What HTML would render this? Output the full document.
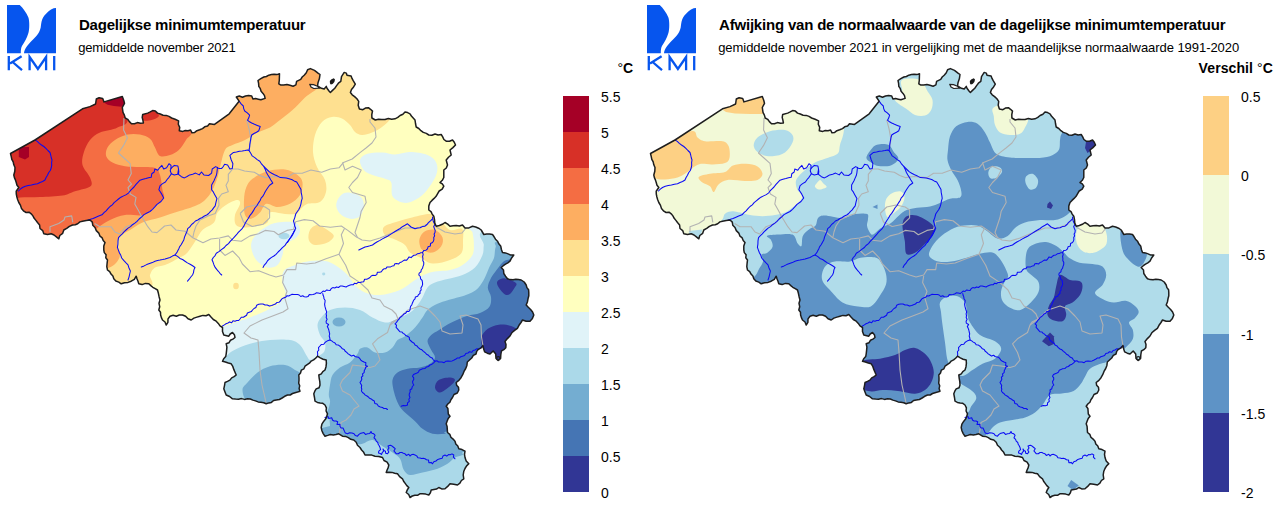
<!DOCTYPE html>
<html><head><meta charset="utf-8"><title>KMI</title>
<style>
html,body{margin:0;padding:0;background:#fff;}
body{width:1280px;height:507px;overflow:hidden;position:relative;font-family:"Liberation Sans",sans-serif;color:#000;}
svg{position:absolute;left:0;top:0;}
.t{position:absolute;white-space:nowrap;line-height:1;}
.b{font-weight:bold;}
</style></head><body>
<svg width="1280" height="507" viewBox="0 0 1280 507">
<defs>
<clipPath id="be"><path d="M10.5,153.5 L35.0,140.0 L82.5,108.8 L90.0,106.6 L95.6,104.0 L96.3,99.0 L99.1,97.7 L102.7,98.4 L104.0,101.9 L122.3,96.5 L123.8,100.5 L124.5,103.3 L122.3,107.5 L123.0,112.4 L124.4,115.1 L125.2,118.0 L127.7,119.3 L129.4,121.6 L131.5,123.7 L134.5,123.8 L137.4,122.6 L140.4,123.2 L143.4,123.0 L142.9,120.2 L142.2,117.4 L142.7,114.5 L147.7,113.1 L150.2,111.9 L152.6,110.6 L155.4,111.1 L157.5,113.1 L160.3,114.0 L163.1,115.2 L166.2,115.4 L169.0,116.4 L171.6,118.0 L175.1,119.3 L178.6,120.9 L178.3,124.2 L179.7,127.4 L179.3,130.7 L182.8,131.4 L185.3,130.5 L188.0,130.7 L190.6,130.0 L192.0,132.8 L194.7,132.4 L196.9,130.7 L199.7,129.8 L202.5,128.6 L204.7,126.8 L207.6,126.0 L209.5,123.7 L214.5,124.4 L229.2,113.8 L239.1,101.2 L236.3,97.0 L239.3,96.0 L242.5,97.2 L245.5,96.0 L248.6,95.6 L251.7,96.0 L252.9,99.0 L255.6,98.6 L258.3,99.2 L260.9,99.8 L265.1,98.4 L264.5,95.7 L263.0,93.4 L261.1,91.3 L260.3,88.7 L258.8,86.4 L258.6,83.4 L258.0,80.5 L260.8,78.6 L263.8,77.0 L266.4,76.5 L268.8,75.2 L271.5,74.6 L274.1,74.3 L276.9,74.6 L279.5,73.8 L279.4,77.1 L279.3,80.4 L278.8,83.8 L280.5,84.9 L283.7,84.9 L286.9,84.6 L290.0,85.3 L293.1,86.2 L295.9,84.9 L296.6,81.4 L300.7,79.3 L302.2,77.0 L304.2,75.2 L306.3,72.7 L307.6,69.7 L310.4,68.6 L314.5,70.4 L318.0,73.1 L320.0,74.5 L319.4,78.6 L318.0,82.8 L317.5,86.0 L321.4,88.3 L324.2,89.0 L326.3,86.4 L327.0,88.3 L329.0,91.0 L330.4,92.5 L332.5,90.4 L334.8,88.2 L336.6,85.6 L338.4,83.2 L340.8,81.4 L341.5,76.6 L344.2,72.4 L346.3,73.1 L347.0,75.2 L351.1,75.9 L352.0,78.4 L353.2,80.7 L355.3,84.2 L353.6,86.9 L351.5,89.4 L350.4,92.5 L352.2,94.8 L354.6,96.6 L356.9,98.8 L358.7,101.4 L358.2,105.3 L359.4,109.0 L362.9,109.7 L365.4,108.1 L368.4,107.7 L370.5,109.3 L372.5,111.1 L371.8,114.5 L371.9,118.0 L375.3,120.0 L378.5,119.2 L381.8,119.6 L385.0,119.5 L388.3,118.5 L391.7,119.3 L395.0,118.8 L397.8,117.4 L400.1,115.5 L402.9,114.2 L405.0,112.0 L407.6,112.6 L410.0,113.8 L411.4,116.0 L413.2,118.0 L415.0,120.0 L415.5,123.5 L416.2,127.0 L418.8,128.5 L420.9,130.7 L423.3,132.4 L426.3,133.4 L428.8,135.0 L431.9,135.2 L435.0,134.0 L438.1,135.0 L441.2,134.5 L442.7,136.9 L443.9,139.5 L446.2,141.2 L449.5,141.2 L452.5,140.0 L454.3,142.3 L455.5,145.0 L452.9,147.6 L450.0,150.0 L451.2,155.0 L448.5,157.3 L446.2,160.0 L447.5,165.0 L446.3,168.0 L443.8,170.0 L443.8,173.8 L443.8,177.5 L442.3,180.3 L440.0,182.5 L442.3,183.9 L443.8,186.2 L442.2,189.2 L439.2,191.0 L437.5,193.8 L436.1,196.3 L434.1,198.4 L432.0,200.4 L430.0,202.5 L428.8,206.1 L428.8,210.0 L431.0,211.6 L432.2,214.1 L433.8,216.2 L434.5,219.6 L434.8,223.1 L436.2,226.2 L439.4,225.5 L442.3,224.3 L445.0,222.5 L447.7,224.1 L450.0,226.2 L453.1,225.8 L456.2,225.4 L459.4,226.0 L462.5,225.0 L465.0,228.0 L468.9,227.9 L472.5,226.2 L475.7,227.0 L478.6,228.2 L481.2,230.0 L483.8,234.5 L486.7,234.0 L489.6,234.0 L492.5,234.5 L494.1,236.8 L495.5,239.2 L497.5,241.2 L498.8,243.8 L500.8,246.3 L501.4,249.5 L502.5,252.5 L505.4,252.9 L508.1,253.9 L510.8,255.1 L513.8,255.0 L511.6,258.0 L510.0,261.2 L507.8,262.8 L505.5,264.2 L503.3,265.7 L501.2,267.5 L503.5,269.9 L503.8,273.5 L505.5,276.2 L507.5,278.8 L510.2,279.6 L513.0,279.8 L515.8,279.3 L518.5,279.6 L521.2,280.0 L524.2,282.0 L526.2,285.0 L526.9,287.6 L528.6,289.8 L528.8,292.5 L528.8,295.8 L528.0,298.8 L527.4,302.0 L526.2,305.0 L528.3,307.3 L530.6,309.5 L532.6,312.0 L533.8,315.0 L532.4,318.4 L530.0,321.2 L526.1,321.3 L522.5,320.0 L521.0,322.5 L519.0,325.3 L517.4,328.3 L514.6,330.4 L511.8,332.8 L510.0,336.0 L507.4,338.6 L505.0,341.5 L506.0,344.6 L505.8,347.8 L503.8,349.7 L501.4,351.0 L500.8,355.0 L500.6,358.5 L498.2,360.4 L496.0,358.5 L495.7,354.0 L493.2,351.0 L490.0,354.0 L487.3,353.2 L484.7,351.9 L483.6,348.8 L483.0,345.6 L481.1,347.9 L478.4,349.3 L476.7,351.4 L476.0,354.0 L473.3,355.4 L471.7,358.0 L469.5,360.0 L467.3,362.0 L466.9,365.4 L465.7,368.5 L464.0,371.4 L462.7,374.7 L461.0,377.7 L458.9,380.4 L456.2,382.5 L456.6,385.2 L458.5,387.3 L458.8,390.0 L457.3,393.0 L454.0,394.5 L452.5,397.5 L450.9,399.7 L449.9,402.2 L447.8,404.0 L446.2,406.2 L447.9,408.5 L448.1,411.3 L448.3,414.0 L450.0,416.2 L448.2,418.5 L447.2,421.1 L446.2,423.8 L447.1,426.6 L447.3,429.6 L447.5,432.5 L449.8,434.3 L450.9,437.2 L453.1,439.1 L455.0,441.2 L455.8,444.0 L457.8,446.1 L458.8,448.8 L462.0,449.6 L465.0,451.2 L464.5,454.4 L465.0,457.5 L466.2,461.0 L468.8,463.8 L466.6,465.9 L465.0,468.5 L463.8,471.2 L463.2,475.0 L463.8,478.8 L461.4,480.5 L459.9,483.2 L457.5,485.0 L453.8,484.3 L450.0,483.8 L447.7,486.4 L445.0,488.8 L441.7,488.9 L438.8,487.5 L436.5,489.1 L433.9,489.5 L431.2,490.0 L430.4,492.7 L428.8,495.0 L425.7,494.1 L422.5,493.8 L419.8,493.8 L417.5,495.3 L414.8,495.3 L412.3,496.0 L410.0,497.5 L408.7,494.5 L406.2,492.5 L407.3,489.9 L408.8,487.5 L406.8,485.6 L405.2,483.4 L403.6,481.2 L402.5,478.8 L399.6,476.6 L397.5,473.8 L394.7,473.2 L392.0,472.4 L389.1,472.2 L386.2,472.5 L387.1,470.0 L388.2,467.6 L388.8,465.0 L387.1,462.2 L384.0,460.5 L382.5,457.5 L378.8,456.6 L375.0,456.2 L371.8,455.1 L368.4,454.9 L365.0,455.0 L363.7,452.3 L361.6,450.0 L360.0,447.5 L357.5,445.3 L356.2,442.2 L353.8,440.0 L350.8,439.3 L348.3,437.6 L345.6,436.4 L342.5,436.2 L338.8,433.8 L336.0,434.4 L333.3,434.9 L330.4,434.5 L327.7,435.4 L325.0,436.2 L323.2,433.6 L321.9,430.7 L321.2,427.5 L321.9,424.2 L323.8,421.2 L325.6,419.1 L326.7,416.5 L327.5,413.8 L326.1,411.0 L326.4,407.8 L325.0,405.0 L322.8,403.3 L320.1,402.9 L317.4,402.4 L315.0,401.2 L314.5,397.5 L313.8,393.8 L314.8,391.2 L316.2,388.9 L319.1,387.7 L320.0,385.0 L319.8,381.6 L319.2,378.3 L318.8,375.0 L321.3,373.9 L322.8,371.6 L325.0,370.0 L326.0,366.7 L326.4,363.4 L326.2,360.0 L323.1,359.2 L320.3,357.9 L317.5,356.2 L315.6,358.2 L313.6,359.9 L311.2,361.1 L309.4,363.2 L307.2,364.7 L305.0,366.2 L303.9,368.8 L301.3,370.2 L300.5,373.0 L298.8,375.0 L299.0,377.7 L299.0,380.4 L298.7,383.2 L299.7,385.8 L299.1,388.6 L300.0,391.2 L297.5,392.0 L295.0,392.7 L292.5,393.5 L290.2,395.0 L287.5,395.0 L284.7,396.3 L282.1,398.0 L279.4,399.5 L276.2,400.0 L273.6,400.5 L271.4,402.4 L268.8,402.9 L266.2,403.8 L263.7,402.7 L260.9,402.2 L258.1,401.9 L255.5,400.9 L252.9,400.1 L250.3,399.0 L247.5,398.8 L244.5,399.4 L241.5,398.6 L238.5,399.2 L235.5,399.1 L232.5,398.8 L229.6,396.5 L226.2,395.0 L225.0,391.9 L223.8,388.8 L224.5,385.6 L225.0,382.5 L227.5,381.4 L229.9,380.1 L231.7,377.9 L234.1,376.7 L236.2,375.0 L235.0,372.2 L233.8,369.4 L232.8,366.4 L231.2,363.8 L228.3,363.0 L225.4,362.0 L222.5,361.2 L223.7,358.7 L225.7,356.6 L226.2,353.8 L226.6,350.4 L226.9,347.1 L226.2,343.8 L228.9,342.8 L230.4,340.3 L232.9,339.1 L235.0,337.5 L234.4,334.7 L232.5,332.5 L230.2,334.0 L228.8,336.2 L223.8,335.0 L222.5,331.4 L222.5,327.5 L220.0,325.9 L218.3,323.4 L216.2,321.2 L213.3,319.5 L211.0,317.1 L208.8,314.5 L206.0,315.8 L202.9,315.4 L200.0,316.2 L196.9,317.1 L193.9,318.1 L191.2,320.0 L188.0,318.8 L185.6,316.3 L182.5,315.0 L179.3,315.0 L176.3,316.2 L173.1,315.3 L170.0,316.2 L168.0,318.9 L167.9,322.3 L166.2,325.0 L165.0,322.0 L162.5,320.0 L161.4,317.6 L160.6,315.0 L160.5,312.2 L158.8,310.0 L159.7,306.7 L159.0,303.3 L160.0,300.0 L159.1,296.7 L158.4,293.3 L157.5,290.0 L155.2,288.7 L152.8,287.3 L150.8,285.6 L148.8,283.8 L145.4,283.4 L142.1,284.6 L138.8,283.8 L138.0,281.2 L137.0,278.8 L136.2,276.2 L134.3,279.3 L131.2,281.2 L128.0,282.4 L124.5,282.7 L121.2,283.8 L118.8,282.1 L115.8,281.0 L113.8,278.8 L112.9,276.1 L111.0,274.1 L109.7,271.7 L107.5,270.0 L106.8,266.7 L107.1,263.3 L107.5,260.0 L105.8,257.8 L106.1,254.8 L104.3,252.6 L103.8,250.0 L103.8,246.1 L105.0,242.5 L103.2,240.5 L102.2,237.9 L100.0,236.2 L98.8,233.1 L96.3,230.6 L95.0,227.5 L92.8,225.3 L92.3,222.1 L90.0,220.0 L86.2,220.5 L82.5,221.2 L79.9,221.9 L77.7,223.8 L75.3,224.8 L72.5,225.0 L69.4,226.4 L66.7,228.4 L63.8,230.0 L62.7,233.3 L59.8,235.5 L58.8,238.8 L56.4,236.9 L54.0,235.0 L51.2,233.8 L47.5,234.5 L43.8,233.8 L42.7,230.6 L40.0,228.5 L39.6,225.0 L37.5,222.5 L35.9,220.4 L34.2,218.3 L32.9,215.9 L31.2,213.8 L29.0,212.2 L26.1,212.5 L23.8,211.2 L21.5,208.6 L20.5,205.4 L18.8,202.5 L17.7,199.8 L16.9,197.0 L16.3,194.2 L16.2,191.2 L18.8,187.5 L17.0,185.3 L16.3,182.7 L15.5,180.1 L14.4,177.6 L13.8,175.0 L14.8,171.3 L15.0,167.5 L13.8,164.8 L13.2,161.9 L11.8,159.3 L11.2,156.4 Z M309.7,84.3 L311.0,87.0 L313.8,88.5 L319.5,88.2 L317.5,86.3 L313.5,84.6 Z" clip-rule="evenodd"/></clipPath>
<g id="lines">
<g fill="none" stroke="#b2b2b2" stroke-width="1.1" stroke-linejoin="round"><path d="M124.0,118.0 L123.6,130.0 L127.4,137.7 L123.6,145.4 L118.5,153.0 L124.0,158.0 L130.0,163.3 L131.3,173.6 L128.0,180.0 L131.5,184.0 L128.0,187.6 L130.4,194.0 L136.0,197.4 L134.8,204.0 L139.0,211.5 L141.3,216.0"/>
<path d="M50.0,232.0 L50.0,226.7 L58.7,223.5 L64.0,220.0 L65.0,217.0 L71.7,215.9 L72.8,222.4"/>
<path d="M94.6,223.5 L100.0,226.7 L111.0,226.7 L115.0,232.0 L119.6,234.0 L126.0,226.7 L134.8,223.5 L141.3,216.0 L147.8,226.7 L152.0,232.0 L157.0,232.6 L164.6,226.0 L171.0,225.0 L176.0,230.0 L185.0,231.3 L192.8,237.7 L203.0,242.8 L210.9,239.0 L219.6,238.0 L228.3,235.9 L232.6,240.2 L241.3,241.3 L250.0,235.9 L258.7,233.7 L265.2,230.4 L274.0,231.5 L278.3,234.8 L287.0,230.4 L293.5,229.3 L295.7,221.7 L304.3,219.6 L313.0,220.7 L319.6,226.0 L330.4,227.2 L341.3,226.0 L347.8,230.4 L356.5,237.0 L362.0,240.0 L370.0,241.0 L380.0,238.0 L392.0,233.0 L405.0,228.0 L418.0,228.0 L428.0,224.0 L433.0,218.0"/>
<path d="M219.6,239.0 L219.6,250.0 L225.0,255.4 L232.6,251.0 L239.0,257.6 L242.4,264.0 L250.0,271.7 L258.7,270.7 L269.6,275.0 L276.0,277.0 L283.7,275.0 L287.0,269.6 L295.7,269.6 L296.7,263.0 L306.5,264.0 L315.2,263.0 L326.0,258.7 L339.0,254.3 L343.5,243.5 L341.3,234.8 L344.6,228.3"/>
<path d="M283.7,276.0 L282.6,282.6 L287.0,291.3 L284.8,297.8 L288.0,308.7 L283.0,312.0 L270.0,317.0 L262.0,320.0 L250.0,326.0 L244.0,333.0 L251.0,338.0 L258.0,340.0 L259.0,352.0 L260.0,370.0 L262.0,385.0 L265.0,398.0 L266.0,403.0"/>
<path d="M339.0,254.3 L345.7,265.2 L350.0,276.0 L360.0,282.6 L368.0,290.0 L372.0,298.0 L380.0,300.0 L384.0,306.0 L392.0,310.0 L396.0,314.0 L398.0,319.0 L392.0,322.0 L390.0,325.0"/>
<path d="M390.0,325.0 L387.5,332.5 L377.5,338.8 L372.5,343.8 L377.5,352.5 L380.0,360.0 L375.0,366.0 L370.0,367.5 L361.0,366.0 L352.5,365.0 L350.0,372.5 L342.5,380.0 L340.0,385.0 L342.5,391.0 L350.0,395.0 L354.0,400.0 L359.0,406.0 L354.0,409.0 L351.0,415.0 L346.0,420.0 L341.0,422.5 L340.0,430.0 L339.0,434.0"/>
<path d="M390.0,325.0 L398.0,319.0 L408.0,310.0 L420.0,306.0 L428.0,309.0 L435.0,316.0 L440.0,322.0 L442.0,331.0 L450.0,334.0 L462.0,333.0 L463.0,325.0 L460.0,316.0 L466.0,315.0 L478.0,319.0 L481.0,325.0 L481.5,337.0 L483.0,346.0"/>
<path d="M246.7,120.0 L249.0,128.7 L251.0,139.6 L249.0,150.0"/>
<path d="M232.6,169.0 L238.0,169.0 L244.6,171.0 L254.3,172.2 L259.8,175.4 L265.2,177.6 L274.0,176.5 L287.0,177.6 L293.5,173.3 L302.2,173.3 L310.9,170.0 L321.7,172.2 L330.4,169.0 L339.0,167.8 L343.5,162.4 L352.2,159.0 L360.0,152.6 L366.0,148.0 L372.0,143.0 L376.0,137.0 L375.0,128.0 L370.0,122.0 L370.0,119.0"/>
<path d="M232.6,169.0 L228.3,174.3 L228.3,181.0 L226.0,185.2 L228.3,191.7 L221.7,194.0 L218.5,198.3 L219.0,205.0 L215.2,213.5 L208.7,215.7 L200.0,220.0 L196.0,226.0 L194.0,232.0 L192.8,237.7"/>
<path d="M240.2,213.5 L246.7,207.0 L256.0,205.0 L265.2,207.0 L269.6,210.0 L269.6,217.8 L263.0,224.3 L252.2,226.5 L243.5,222.0 L240.2,213.5"/>
<path d="M342.5,162.5 L345.0,170.0 L352.5,166.2 L361.2,170.0 L357.5,177.5 L352.5,182.5 L348.8,187.5 L352.5,192.5 L365.0,196.2 L366.2,202.5 L361.2,211.2 L360.0,217.5 L357.5,225.0 L355.0,232.5 L357.5,237.5"/>
<path d="M436.0,227.0 L445.0,232.0 L455.0,234.0 L462.0,233.0 L466.0,228.0"/></g>
<g fill="none" stroke="#0a0af5" stroke-width="1.05" stroke-linejoin="round" stroke-linecap="round"><path d="M35.0,140.0 L37.3,141.4 L39.3,143.4 L41.5,145.0 L43.8,146.5 L45.9,148.4 L47.9,150.5 L50.0,152.5 L50.7,155.0 L51.2,157.5 L52.0,160.0 L51.6,162.7 L51.7,165.4 L51.2,168.0 L50.3,170.5 L48.6,172.7 L47.5,175.2 L46.1,177.5 L45.0,180.0 L42.6,181.5 L40.0,182.5 L37.5,183.8 L34.4,184.2 L31.4,185.0 L28.3,185.4 L25.3,186.2 L22.5,187.5 L20.3,189.1 L18.5,191.0"/>
<path d="M239.3,101.4 L241.1,103.9 L243.3,106.0 L243.7,108.6 L244.7,111.0 L247.3,112.9 L249.6,115.2 L248.8,117.8 L247.5,120.2 L249.5,121.8 L251.7,123.0 L254.5,124.3 L257.3,125.4 L260.2,126.5 L258.8,130.7 L256.5,132.2 L254.0,133.5 L251.7,135.0 L250.9,138.1 L250.3,141.3 L249.8,144.3 L249.6,147.4 L249.0,150.4 L250.6,153.1 L252.2,155.9 L254.8,157.6 L257.2,159.6 L259.8,161.3 L261.7,164.2 L264.0,166.7 L267.4,170.0 L269.4,171.9 L271.7,173.3 L274.6,174.8 L277.5,176.1 L280.4,177.6 L283.3,177.8 L286.2,178.1 L289.0,178.7 L291.7,179.5 L294.1,180.9 L296.7,182.0 L298.2,184.5 L299.6,187.0 L301.0,189.6 L301.2,192.5 L301.8,195.4 L302.2,198.3 L301.4,201.2 L300.9,204.1 L300.0,207.0 L298.8,209.5 L297.2,211.7 L295.7,214.0 L294.8,217.6 L293.5,221.0 L294.2,223.4 L294.7,226.0 L295.7,228.3 L294.1,231.2 L292.9,234.2 L291.3,237.0 L289.5,239.0 L287.9,241.2 L286.3,243.4 L284.8,245.7 L282.4,247.7 L280.3,249.9 L278.1,252.0 L276.0,254.3 L273.9,256.0 L271.5,257.4 L269.4,259.0 L267.4,260.9 L266.1,263.2 L264.3,265.1 L263.0,267.4"/>
<path d="M264.0,166.7 L265.3,169.4 L266.3,172.2 L267.7,174.7 L269.3,177.2 L270.7,179.8 L272.8,183.0 L269.6,185.2 L268.1,187.3 L266.6,189.5 L265.2,191.7 L264.1,194.0 L262.9,196.2 L261.1,198.1 L260.1,200.5 L258.7,202.6 L257.0,205.5 L254.9,208.0 L253.3,210.9 L251.7,213.4 L249.8,215.7 L248.4,218.3 L246.7,220.7 L245.2,223.2 L244.0,225.9 L242.4,228.3 L240.4,230.4 L238.3,232.4 L236.5,234.7 L234.5,236.8 L232.6,239.0 L230.4,241.1 L228.5,243.6 L226.0,245.5 L224.0,247.8 L221.4,249.6 L218.9,251.6 L216.3,253.3 L215.1,255.6 L213.3,257.5 L212.0,259.8 L213.1,262.3 L214.0,264.9 L215.2,267.4 L216.7,269.4 L218.4,271.3 L219.9,273.3 L221.7,275.0"/>
<path d="M249.0,150.4 L247.7,150.0 L245.0,150.6 L242.2,151.0 L239.4,151.2 L236.5,151.9 L233.5,152.4 L229.9,155.4 L231.1,159.5 L232.9,163.7 L232.3,168.4 L229.9,169.0 L227.6,164.9 L224.6,164.3 L223.3,166.5 L221.7,168.4 L218.7,168.4 L215.7,166.6 L212.2,169.0 L211.6,173.1 L208.6,175.5 L203.9,174.9 L201.5,172.0 L199.2,174.9 L195.6,173.1 L192.7,174.2 L189.7,174.9 L187.1,176.5 L184.4,177.9 L181.4,176.7 L178.5,174.3 L178.8,171.7 L178.5,169.0 L177.9,166.0 L174.3,165.4 L171.0,168.4 L170.2,170.8 L171.4,173.7 L174.3,174.9 L177.6,174.3 L178.2,171.7 L178.5,169.0"/>
<path d="M171.0,168.4 L171.0,165.4 L169.0,163.7 L166.6,167.8 L163.7,169.0 L161.9,165.4 L159.5,167.8 L157.8,170.2 L154.8,169.0 L154.2,172.0 L151.8,173.7 L151.2,177.3 L148.5,177.8 L145.9,178.5 L142.9,179.2 L140.0,180.2 L137.9,182.3 L135.8,184.6 L134.0,187.0 L132.1,188.8 L130.3,190.7 L128.7,192.8 L126.3,194.6 L123.6,195.9 L120.9,197.2 L118.5,199.0 L116.3,200.8 L114.1,202.6 L112.3,204.8 L110.0,206.5 L108.0,208.6 L106.1,210.8 L104.0,212.7 L102.0,214.8 L98.7,216.1 L95.4,217.5 L93.0,218.6 L90.5,219.3 L88.0,220.0"/>
<path d="M171.4,173.7 L169.0,177.3 L167.1,179.5 L165.4,182.0 L162.6,183.6 L160.1,185.6 L158.9,189.7 L160.4,192.0 L161.9,194.4 L163.7,198.0 L161.0,201.5 L157.0,204.4 L154.8,206.9 L152.5,209.3 L150.0,211.5 L147.0,213.0 L144.0,214.6 L141.7,216.8 L139.2,219.0 L137.0,221.3 L134.8,223.1 L132.5,224.7 L130.5,226.6 L128.1,228.1 L126.0,230.0 L124.0,231.8 L122.3,233.8 L120.4,235.7 L118.5,237.6 L118.0,240.9 L117.9,244.2 L117.4,247.4 L118.4,250.1 L119.4,252.8 L120.8,255.3 L121.7,258.0 L123.7,260.4 L125.8,262.6 L128.0,264.8 L129.0,268.0 L130.4,271.0 L129.7,274.0 L129.0,277.1 L128.0,280.0"/>
<path d="M217.5,167.2 L217.2,170.0 L216.9,172.8 L216.3,175.5 L215.1,178.1 L214.0,180.8 L211.6,185.0 L211.6,189.7 L213.3,191.9 L214.6,194.4 L216.9,198.6 L216.0,202.2 L215.2,205.9 L213.6,207.9 L212.2,209.9 L210.3,211.6 L208.7,213.5 L206.7,215.0 L204.4,216.0 L202.3,217.5 L200.0,218.5 L197.8,220.0 L195.4,221.0 L193.5,223.0 L191.4,224.7 L189.8,226.9 L187.7,228.7 L186.9,231.6 L185.7,234.3 L184.5,237.1 L183.8,240.0 L182.5,242.2 L181.3,244.5 L179.7,246.6 L178.7,249.0 L177.1,252.1 L175.0,255.0 L172.4,256.1 L170.0,257.5 L167.5,258.2 L165.1,259.0 L162.6,259.6 L160.0,260.1 L157.5,260.4 L155.0,261.2 L152.3,262.6 L149.5,263.5 L146.7,264.6 L144.1,265.9 L141.3,267.0"/>
<path d="M175.0,255.0 L177.6,256.4 L179.9,258.4 L182.6,259.5 L185.0,261.2 L187.4,262.9 L190.1,264.2 L192.6,265.8 L195.0,267.5 L193.9,269.9 L193.5,272.6 L192.5,275.0 L190.8,277.0 L189.2,279.2 L187.5,281.2"/>
<path d="M222.5,326.0 L224.3,324.9 L226.0,323.8 L228.0,323.0 L229.6,321.9 L231.7,322.8 L233.0,320.7 L235.0,321.2 L236.7,320.5 L238.7,320.5 L240.0,319.0 L241.3,317.3 L243.4,317.3 L245.0,316.2 L246.6,315.2 L247.4,313.0 L249.3,312.3 L251.3,311.6 L252.5,310.0 L254.0,308.5 L255.9,307.5 L256.7,305.2 L258.7,304.3 L260.9,304.0 L263.0,304.0 L265.0,305.0 L267.2,305.1 L269.4,306.1 L271.7,305.4 L273.5,304.7 L275.4,304.1 L276.8,302.6 L278.9,302.3 L280.4,301.0 L281.6,299.1 L283.4,298.0 L285.6,297.3 L287.0,295.7 L288.8,295.9 L290.5,295.1 L292.1,294.2 L293.9,294.4 L295.7,294.6 L297.6,294.5 L299.2,295.0 L300.7,296.5 L302.7,295.7 L304.3,296.7 L306.2,297.0 L308.0,296.6 L309.3,294.6 L311.2,294.8 L313.0,294.6 L314.7,294.1 L316.2,292.8 L318.2,293.1 L320.2,293.6 L321.7,292.4 L323.1,291.1 L325.0,291.5 L326.4,290.0 L328.3,290.3 L330.1,290.4 L331.3,288.5 L332.8,287.6 L334.8,288.0 L336.5,286.9 L338.5,287.5 L340.2,286.1 L342.1,286.0 L344.1,286.5 L346.1,287.0 L347.8,285.9 L349.5,285.3 L351.2,284.8 L353.1,284.8 L354.6,283.2 L356.6,283.7 L358.1,282.4 L360.0,282.6 L361.8,281.9 L363.7,281.7 L364.6,279.3 L366.7,279.3 L368.4,278.5 L370.0,277.5 L371.2,276.0 L372.9,275.2 L375.2,275.5 L376.8,274.6 L377.4,272.2 L379.6,272.2 L381.4,271.7 L382.5,270.0 L383.9,268.8 L385.8,268.8 L386.9,267.1 L388.8,267.0 L390.6,266.9 L392.1,266.1 L393.9,265.7 L394.9,263.8 L396.7,263.6 L398.7,263.9 L400.0,262.5 L401.6,261.9 L403.1,260.9 L404.6,260.0 L406.7,260.2 L407.9,258.7 L408.9,257.0 L411.2,257.6 L412.5,256.2 L414.0,255.3 L415.8,254.9 L417.3,253.8 L419.1,253.6 L420.7,252.8 L422.5,252.5 L423.7,250.6 L426.0,250.2 L427.5,248.8 L428.1,246.7 L430.4,246.0 L430.5,243.5 L432.5,242.5 L433.5,241.0 L433.9,239.3 L433.7,237.5 L434.6,235.9 L434.1,234.0 L435.0,232.5 L435.2,230.4 L434.4,228.5 L433.7,226.6 L434.9,224.4 L433.8,222.5 L433.1,220.7 L432.7,218.9 L432.5,217.0"/>
<path d="M322.8,293.5 L323.1,295.3 L323.8,296.9 L324.0,298.8 L325.1,300.3 L325.0,302.2 L324.6,304.2 L324.9,306.2 L325.4,308.1 L326.0,310.0 L326.7,311.9 L326.1,313.8 L326.5,315.6 L326.2,317.5 L327.1,319.2 L326.1,321.2 L326.3,323.1 L328.6,324.5 L327.3,326.6 L328.2,328.3 L328.8,330.0 L329.2,332.0 L329.7,333.9 L329.2,336.0 L329.8,338.0 L330.0,340.0 L328.2,340.5 L326.5,341.4 L325.0,342.5 L323.8,344.3 L321.4,344.4 L320.0,346.0 L318.5,347.7 L318.8,350.0 L317.4,351.8 L317.7,354.0 L317.5,356.0"/>
<path d="M330.0,340.0 L331.7,340.9 L333.3,342.1 L335.0,343.0 L336.2,344.8 L338.4,345.1 L340.0,346.2 L341.2,347.4 L342.4,348.8 L344.2,349.4 L345.0,351.0 L346.7,352.4 L348.2,353.9 L350.0,355.0 L351.5,356.1 L353.6,355.2 L355.0,356.5 L356.8,356.9 L358.7,357.3 L360.0,358.8 L360.9,360.3 L362.4,361.2 L364.0,362.0 L365.9,362.8 L365.6,365.4 L367.5,366.2 L365.7,367.2 L365.2,369.1 L364.3,370.6 L364.1,372.6 L362.5,373.8 L362.9,375.8 L361.4,377.2 L361.8,379.2 L361.1,380.9 L360.0,382.5 L360.9,384.0 L361.7,385.6 L361.3,387.5 L361.8,389.1 L361.4,391.0 L362.5,392.5 L364.0,393.7 L365.3,395.1 L367.0,396.0 L368.4,397.0 L369.6,398.3 L371.2,398.9 L372.5,400.0 L374.3,401.0 L374.8,403.4 L377.0,404.0 L378.3,406.0 L380.3,406.9 L382.5,407.5 L384.0,408.6 L386.0,408.5 L387.5,409.5"/>
<path d="M358.8,250.0 L361.9,248.5 L365.0,247.0 L367.5,246.4 L370.0,245.8 L372.5,245.0 L374.9,243.3 L377.3,241.7 L380.0,240.4 L382.4,238.9 L385.0,237.5 L387.6,236.2 L390.1,234.6 L392.5,233.1 L395.0,231.5 L397.5,230.0 L400.1,228.5 L402.4,226.7 L405.0,225.3 L407.5,223.8 L411.0,227.0 L415.0,228.8 L417.5,227.9 L420.1,227.7 L422.4,226.6 L425.0,226.2 L427.0,224.5 L428.6,222.3 L430.7,220.7 L432.5,218.8"/>
<path d="M422.5,252.5 L423.2,254.4 L422.6,256.5 L422.9,258.5 L422.8,260.6 L423.8,262.5 L423.7,264.6 L423.0,266.4 L422.5,268.3 L421.2,270.0 L420.9,271.9 L419.2,273.1 L418.8,275.0 L420.3,276.5 L420.6,278.8 L422.1,280.4 L422.5,282.5 L422.6,284.4 L422.0,286.3 L420.9,288.0 L421.2,290.0 L420.0,291.3 L420.0,293.5 L418.5,294.6 L417.7,296.2 L415.4,296.9 L415.0,298.8 L413.7,300.1 L413.0,301.7 L412.3,303.3 L411.7,305.0 L410.6,306.4 L410.2,308.2 L410.0,310.0 L408.9,311.5 L406.7,311.6 L405.7,313.2 L404.0,313.9 L402.8,315.3 L401.5,316.5 L400.0,317.5 L399.0,319.2 L397.6,320.7 L396.5,322.4 L395.0,323.8 L396.5,325.1 L396.1,327.4 L397.5,328.8 L398.7,330.3 L399.9,331.7 L402.0,332.0 L403.1,333.4 L404.7,334.2 L405.8,335.6 L407.5,336.2 L409.3,337.4 L409.5,339.6 L411.0,341.0 L412.4,342.3 L414.1,343.2 L415.0,345.0 L417.0,345.9 L418.3,347.7 L420.0,349.0 L421.9,349.8 L423.4,351.3 L425.0,352.5 L426.5,354.2 L428.5,355.3 L430.0,357.0 L432.1,357.9 L433.3,359.8 L435.0,361.2 L433.7,362.9 L432.0,364.2 L430.0,365.0 L428.4,366.5 L426.4,367.1 L424.8,368.6 L422.5,368.8 L420.9,369.6 L419.2,370.2 L418.5,372.1 L417.0,373.0 L415.2,373.7 L413.5,374.5 L412.5,376.2 L413.7,377.9 L413.7,379.6 L412.6,381.6 L412.8,383.3 L413.8,385.0 L412.3,386.5 L411.8,388.7 L410.0,390.0 L410.2,391.9 L409.3,393.8 L409.2,395.6 L410.0,397.5 L408.8,399.2 L409.3,401.4 L407.5,402.9 L407.5,405.0 L405.5,405.7 L403.2,405.4 L401.2,406.2"/>
<path d="M435.0,361.2 L436.8,360.7 L438.5,362.0 L440.2,362.1 L442.0,362.0 L444.1,362.7 L446.0,361.2 L448.0,361.0 L450.0,361.2 L452.2,360.9 L454.1,360.0 L456.0,359.0 L457.5,357.9 L459.4,358.0 L460.8,356.7 L462.5,356.2 L464.6,355.6 L465.8,353.4 L468.0,353.0 L469.5,351.7 L471.8,352.2 L473.1,350.5 L475.0,350.0 L476.6,348.8 L478.7,349.1 L480.4,348.0 L481.7,346.4 L483.8,346.2"/>
<path d="M325.0,417.5 L328.0,416.5 L328.8,418.6 L331.8,417.8 L332.5,420.0 L334.1,421.1 L336.0,421.0 L337.7,421.8 L337.0,424.4 L340.0,424.2 L340.0,426.2 L341.0,428.0 L343.0,428.0 L343.8,429.7 L344.5,431.4 L345.4,433.1 L347.5,433.8 L349.6,432.7 L352.0,433.0 L354.0,433.7 L355.4,435.6 L357.5,436.2 L358.7,434.7 L360.1,433.6 L362.0,433.0 L363.9,432.6 L365.5,434.4 L367.5,433.8 L369.8,433.4 L371.0,431.5 L371.9,433.2 L373.8,433.8 L375.1,435.4 L374.0,437.8 L375.6,439.4 L376.2,441.2 L377.8,442.5 L378.2,444.3 L379.2,445.8 L380.0,447.5 L380.6,449.6 L378.8,451.1 L378.5,453.0 L380.2,453.4 L381.5,454.5 L382.2,452.7 L383.6,451.1 L383.0,449.0 L383.9,450.4 L385.4,451.2 L385.7,453.2 L387.5,453.8 L388.9,451.9 L387.7,449.9 L389.0,448.0 L388.0,446.0 L390.2,445.3 L392.1,446.1 L393.8,447.5 L395.2,448.7 L393.9,451.0 L395.2,452.4 L396.2,453.8 L398.3,453.7 L400.0,452.5 L401.8,452.4 L403.3,453.3 L405.0,453.8 L406.3,455.4 L408.8,454.3 L410.0,456.0 L411.5,454.7 L413.1,454.2 L415.0,455.0 L416.7,455.9 L417.9,457.8 L420.0,458.0 L421.6,458.4 L423.4,458.2 L425.0,458.8 L426.5,459.8 L428.5,460.1 L428.9,462.7 L431.2,462.4 L432.5,463.8 L433.8,461.8 L436.0,461.0 L437.8,459.4 L440.0,458.8 L442.2,458.2 L443.0,455.9 L445.0,455.0 L446.8,456.1 L448.5,454.6 L450.2,454.8 L452.0,453.9 L453.8,455.0 L453.4,457.2 L455.0,458.8"/>
<path d="M295.0,230.0 L293.6,232.5 L292.0,235.0 L290.5,237.5 L289.0,240.0 L287.5,242.5"/></g>
<path d="M10.5,153.5 L35.0,140.0 L82.5,108.8 L90.0,106.6 L95.6,104.0 L96.3,99.0 L99.1,97.7 L102.7,98.4 L104.0,101.9 L122.3,96.5 L123.8,100.5 L124.5,103.3 L122.3,107.5 L123.0,112.4 L124.4,115.1 L125.2,118.0 L127.7,119.3 L129.4,121.6 L131.5,123.7 L134.5,123.8 L137.4,122.6 L140.4,123.2 L143.4,123.0 L142.9,120.2 L142.2,117.4 L142.7,114.5 L147.7,113.1 L150.2,111.9 L152.6,110.6 L155.4,111.1 L157.5,113.1 L160.3,114.0 L163.1,115.2 L166.2,115.4 L169.0,116.4 L171.6,118.0 L175.1,119.3 L178.6,120.9 L178.3,124.2 L179.7,127.4 L179.3,130.7 L182.8,131.4 L185.3,130.5 L188.0,130.7 L190.6,130.0 L192.0,132.8 L194.7,132.4 L196.9,130.7 L199.7,129.8 L202.5,128.6 L204.7,126.8 L207.6,126.0 L209.5,123.7 L214.5,124.4 L229.2,113.8 L239.1,101.2 L236.3,97.0 L239.3,96.0 L242.5,97.2 L245.5,96.0 L248.6,95.6 L251.7,96.0 L252.9,99.0 L255.6,98.6 L258.3,99.2 L260.9,99.8 L265.1,98.4 L264.5,95.7 L263.0,93.4 L261.1,91.3 L260.3,88.7 L258.8,86.4 L258.6,83.4 L258.0,80.5 L260.8,78.6 L263.8,77.0 L266.4,76.5 L268.8,75.2 L271.5,74.6 L274.1,74.3 L276.9,74.6 L279.5,73.8 L279.4,77.1 L279.3,80.4 L278.8,83.8 L280.5,84.9 L283.7,84.9 L286.9,84.6 L290.0,85.3 L293.1,86.2 L295.9,84.9 L296.6,81.4 L300.7,79.3 L302.2,77.0 L304.2,75.2 L306.3,72.7 L307.6,69.7 L310.4,68.6 L314.5,70.4 L318.0,73.1 L320.0,74.5 L319.4,78.6 L318.0,82.8 L317.5,86.0 L321.4,88.3 L324.2,89.0 L326.3,86.4 L327.0,88.3 L329.0,91.0 L330.4,92.5 L332.5,90.4 L334.8,88.2 L336.6,85.6 L338.4,83.2 L340.8,81.4 L341.5,76.6 L344.2,72.4 L346.3,73.1 L347.0,75.2 L351.1,75.9 L352.0,78.4 L353.2,80.7 L355.3,84.2 L353.6,86.9 L351.5,89.4 L350.4,92.5 L352.2,94.8 L354.6,96.6 L356.9,98.8 L358.7,101.4 L358.2,105.3 L359.4,109.0 L362.9,109.7 L365.4,108.1 L368.4,107.7 L370.5,109.3 L372.5,111.1 L371.8,114.5 L371.9,118.0 L375.3,120.0 L378.5,119.2 L381.8,119.6 L385.0,119.5 L388.3,118.5 L391.7,119.3 L395.0,118.8 L397.8,117.4 L400.1,115.5 L402.9,114.2 L405.0,112.0 L407.6,112.6 L410.0,113.8 L411.4,116.0 L413.2,118.0 L415.0,120.0 L415.5,123.5 L416.2,127.0 L418.8,128.5 L420.9,130.7 L423.3,132.4 L426.3,133.4 L428.8,135.0 L431.9,135.2 L435.0,134.0 L438.1,135.0 L441.2,134.5 L442.7,136.9 L443.9,139.5 L446.2,141.2 L449.5,141.2 L452.5,140.0 L454.3,142.3 L455.5,145.0 L452.9,147.6 L450.0,150.0 L451.2,155.0 L448.5,157.3 L446.2,160.0 L447.5,165.0 L446.3,168.0 L443.8,170.0 L443.8,173.8 L443.8,177.5 L442.3,180.3 L440.0,182.5 L442.3,183.9 L443.8,186.2 L442.2,189.2 L439.2,191.0 L437.5,193.8 L436.1,196.3 L434.1,198.4 L432.0,200.4 L430.0,202.5 L428.8,206.1 L428.8,210.0 L431.0,211.6 L432.2,214.1 L433.8,216.2 L434.5,219.6 L434.8,223.1 L436.2,226.2 L439.4,225.5 L442.3,224.3 L445.0,222.5 L447.7,224.1 L450.0,226.2 L453.1,225.8 L456.2,225.4 L459.4,226.0 L462.5,225.0 L465.0,228.0 L468.9,227.9 L472.5,226.2 L475.7,227.0 L478.6,228.2 L481.2,230.0 L483.8,234.5 L486.7,234.0 L489.6,234.0 L492.5,234.5 L494.1,236.8 L495.5,239.2 L497.5,241.2 L498.8,243.8 L500.8,246.3 L501.4,249.5 L502.5,252.5 L505.4,252.9 L508.1,253.9 L510.8,255.1 L513.8,255.0 L511.6,258.0 L510.0,261.2 L507.8,262.8 L505.5,264.2 L503.3,265.7 L501.2,267.5 L503.5,269.9 L503.8,273.5 L505.5,276.2 L507.5,278.8 L510.2,279.6 L513.0,279.8 L515.8,279.3 L518.5,279.6 L521.2,280.0 L524.2,282.0 L526.2,285.0 L526.9,287.6 L528.6,289.8 L528.8,292.5 L528.8,295.8 L528.0,298.8 L527.4,302.0 L526.2,305.0 L528.3,307.3 L530.6,309.5 L532.6,312.0 L533.8,315.0 L532.4,318.4 L530.0,321.2 L526.1,321.3 L522.5,320.0 L521.0,322.5 L519.0,325.3 L517.4,328.3 L514.6,330.4 L511.8,332.8 L510.0,336.0 L507.4,338.6 L505.0,341.5 L506.0,344.6 L505.8,347.8 L503.8,349.7 L501.4,351.0 L500.8,355.0 L500.6,358.5 L498.2,360.4 L496.0,358.5 L495.7,354.0 L493.2,351.0 L490.0,354.0 L487.3,353.2 L484.7,351.9 L483.6,348.8 L483.0,345.6 L481.1,347.9 L478.4,349.3 L476.7,351.4 L476.0,354.0 L473.3,355.4 L471.7,358.0 L469.5,360.0 L467.3,362.0 L466.9,365.4 L465.7,368.5 L464.0,371.4 L462.7,374.7 L461.0,377.7 L458.9,380.4 L456.2,382.5 L456.6,385.2 L458.5,387.3 L458.8,390.0 L457.3,393.0 L454.0,394.5 L452.5,397.5 L450.9,399.7 L449.9,402.2 L447.8,404.0 L446.2,406.2 L447.9,408.5 L448.1,411.3 L448.3,414.0 L450.0,416.2 L448.2,418.5 L447.2,421.1 L446.2,423.8 L447.1,426.6 L447.3,429.6 L447.5,432.5 L449.8,434.3 L450.9,437.2 L453.1,439.1 L455.0,441.2 L455.8,444.0 L457.8,446.1 L458.8,448.8 L462.0,449.6 L465.0,451.2 L464.5,454.4 L465.0,457.5 L466.2,461.0 L468.8,463.8 L466.6,465.9 L465.0,468.5 L463.8,471.2 L463.2,475.0 L463.8,478.8 L461.4,480.5 L459.9,483.2 L457.5,485.0 L453.8,484.3 L450.0,483.8 L447.7,486.4 L445.0,488.8 L441.7,488.9 L438.8,487.5 L436.5,489.1 L433.9,489.5 L431.2,490.0 L430.4,492.7 L428.8,495.0 L425.7,494.1 L422.5,493.8 L419.8,493.8 L417.5,495.3 L414.8,495.3 L412.3,496.0 L410.0,497.5 L408.7,494.5 L406.2,492.5 L407.3,489.9 L408.8,487.5 L406.8,485.6 L405.2,483.4 L403.6,481.2 L402.5,478.8 L399.6,476.6 L397.5,473.8 L394.7,473.2 L392.0,472.4 L389.1,472.2 L386.2,472.5 L387.1,470.0 L388.2,467.6 L388.8,465.0 L387.1,462.2 L384.0,460.5 L382.5,457.5 L378.8,456.6 L375.0,456.2 L371.8,455.1 L368.4,454.9 L365.0,455.0 L363.7,452.3 L361.6,450.0 L360.0,447.5 L357.5,445.3 L356.2,442.2 L353.8,440.0 L350.8,439.3 L348.3,437.6 L345.6,436.4 L342.5,436.2 L338.8,433.8 L336.0,434.4 L333.3,434.9 L330.4,434.5 L327.7,435.4 L325.0,436.2 L323.2,433.6 L321.9,430.7 L321.2,427.5 L321.9,424.2 L323.8,421.2 L325.6,419.1 L326.7,416.5 L327.5,413.8 L326.1,411.0 L326.4,407.8 L325.0,405.0 L322.8,403.3 L320.1,402.9 L317.4,402.4 L315.0,401.2 L314.5,397.5 L313.8,393.8 L314.8,391.2 L316.2,388.9 L319.1,387.7 L320.0,385.0 L319.8,381.6 L319.2,378.3 L318.8,375.0 L321.3,373.9 L322.8,371.6 L325.0,370.0 L326.0,366.7 L326.4,363.4 L326.2,360.0 L323.1,359.2 L320.3,357.9 L317.5,356.2 L315.6,358.2 L313.6,359.9 L311.2,361.1 L309.4,363.2 L307.2,364.7 L305.0,366.2 L303.9,368.8 L301.3,370.2 L300.5,373.0 L298.8,375.0 L299.0,377.7 L299.0,380.4 L298.7,383.2 L299.7,385.8 L299.1,388.6 L300.0,391.2 L297.5,392.0 L295.0,392.7 L292.5,393.5 L290.2,395.0 L287.5,395.0 L284.7,396.3 L282.1,398.0 L279.4,399.5 L276.2,400.0 L273.6,400.5 L271.4,402.4 L268.8,402.9 L266.2,403.8 L263.7,402.7 L260.9,402.2 L258.1,401.9 L255.5,400.9 L252.9,400.1 L250.3,399.0 L247.5,398.8 L244.5,399.4 L241.5,398.6 L238.5,399.2 L235.5,399.1 L232.5,398.8 L229.6,396.5 L226.2,395.0 L225.0,391.9 L223.8,388.8 L224.5,385.6 L225.0,382.5 L227.5,381.4 L229.9,380.1 L231.7,377.9 L234.1,376.7 L236.2,375.0 L235.0,372.2 L233.8,369.4 L232.8,366.4 L231.2,363.8 L228.3,363.0 L225.4,362.0 L222.5,361.2 L223.7,358.7 L225.7,356.6 L226.2,353.8 L226.6,350.4 L226.9,347.1 L226.2,343.8 L228.9,342.8 L230.4,340.3 L232.9,339.1 L235.0,337.5 L234.4,334.7 L232.5,332.5 L230.2,334.0 L228.8,336.2 L223.8,335.0 L222.5,331.4 L222.5,327.5 L220.0,325.9 L218.3,323.4 L216.2,321.2 L213.3,319.5 L211.0,317.1 L208.8,314.5 L206.0,315.8 L202.9,315.4 L200.0,316.2 L196.9,317.1 L193.9,318.1 L191.2,320.0 L188.0,318.8 L185.6,316.3 L182.5,315.0 L179.3,315.0 L176.3,316.2 L173.1,315.3 L170.0,316.2 L168.0,318.9 L167.9,322.3 L166.2,325.0 L165.0,322.0 L162.5,320.0 L161.4,317.6 L160.6,315.0 L160.5,312.2 L158.8,310.0 L159.7,306.7 L159.0,303.3 L160.0,300.0 L159.1,296.7 L158.4,293.3 L157.5,290.0 L155.2,288.7 L152.8,287.3 L150.8,285.6 L148.8,283.8 L145.4,283.4 L142.1,284.6 L138.8,283.8 L138.0,281.2 L137.0,278.8 L136.2,276.2 L134.3,279.3 L131.2,281.2 L128.0,282.4 L124.5,282.7 L121.2,283.8 L118.8,282.1 L115.8,281.0 L113.8,278.8 L112.9,276.1 L111.0,274.1 L109.7,271.7 L107.5,270.0 L106.8,266.7 L107.1,263.3 L107.5,260.0 L105.8,257.8 L106.1,254.8 L104.3,252.6 L103.8,250.0 L103.8,246.1 L105.0,242.5 L103.2,240.5 L102.2,237.9 L100.0,236.2 L98.8,233.1 L96.3,230.6 L95.0,227.5 L92.8,225.3 L92.3,222.1 L90.0,220.0 L86.2,220.5 L82.5,221.2 L79.9,221.9 L77.7,223.8 L75.3,224.8 L72.5,225.0 L69.4,226.4 L66.7,228.4 L63.8,230.0 L62.7,233.3 L59.8,235.5 L58.8,238.8 L56.4,236.9 L54.0,235.0 L51.2,233.8 L47.5,234.5 L43.8,233.8 L42.7,230.6 L40.0,228.5 L39.6,225.0 L37.5,222.5 L35.9,220.4 L34.2,218.3 L32.9,215.9 L31.2,213.8 L29.0,212.2 L26.1,212.5 L23.8,211.2 L21.5,208.6 L20.5,205.4 L18.8,202.5 L17.7,199.8 L16.9,197.0 L16.3,194.2 L16.2,191.2 L18.8,187.5 L17.0,185.3 L16.3,182.7 L15.5,180.1 L14.4,177.6 L13.8,175.0 L14.8,171.3 L15.0,167.5 L13.8,164.8 L13.2,161.9 L11.8,159.3 L11.2,156.4 Z" fill="none" stroke="#1e1e1e" stroke-width="1.5" stroke-linejoin="round"/>
<path d="M309.7,84.3 L311.0,87.0 L313.8,88.5 L319.5,88.2 L317.5,86.3 L313.5,84.6 Z" fill="#fff" stroke="#222" stroke-width="1.2" stroke-linejoin="round"/>
<circle cx="498.3" cy="358.3" r="1.7" fill="none" stroke="#222" stroke-width="1.3"/>
<path d="M330,83.6 L329.8,81 L331.5,79.2 L333.8,78.2 L335,79.6 L334.4,82 L332.6,84 L330.8,84.6 Z" fill="#1c1c1c"/>
</g>
<g id="logo">
<path d="M7,5 L19.7,5 C23,8 26.5,13 28.4,17.4 C29.6,21 29.6,29 28.4,33.1 C27,38 24,43 22.1,45.7 C21,47.5 20.8,50 20.8,53.3 L7,53.3 Z" fill="#0655ee"/>
<path d="M56,7.9 L53.6,8.2 C50,9.5 47,12.5 44.2,15.8 C42.5,18 41.8,20.5 41.3,23 C41,25 40.9,26 40.7,27.6 C40,30.5 39,32.5 37.9,33.9 C36,36.5 33.5,39 31.5,41 C29.5,43 28,45 26.8,46.5 C25,49 24.2,51 24,53.3 L56,53.3 Z" fill="#0655ee"/>
<g fill="none" stroke="#0655ee" stroke-width="2.3">
<path d="M8.8,56 V70.3 M21.6,56.2 L10,63.4 M12.6,62 L22,70.2"/>
<path d="M29.6,70.3 V57 L37.9,69 L46.1,57 V70.3" stroke-linejoin="miter"/>
<path d="M54.2,56 V70.3"/>
</g>
</g>
</defs>
<!-- left map -->
<g clip-path="url(#be)">
<rect x="0" y="60" width="560" height="447" fill="#ffffbf"/>
<path d="M392.0,117.0 C389.0,121.5 385.3,124.4 382.0,127.0 C378.7,129.6 375.3,131.2 372.0,132.5 C368.7,133.8 364.8,135.1 362.0,135.0 C359.2,134.9 357.0,133.7 355.0,132.0 C353.0,130.3 352.2,127.2 350.0,125.0 C347.8,122.8 345.0,119.8 342.0,118.5 C339.0,117.2 335.3,116.4 332.0,117.0 C328.7,117.6 324.8,119.0 322.0,122.0 C319.2,125.0 316.5,130.0 315.0,135.0 C313.5,140.0 312.7,146.7 313.0,152.0 C313.3,157.3 315.0,162.3 317.0,167.0 C319.0,171.7 323.5,175.8 325.0,180.0 C326.5,184.2 326.8,188.3 326.0,192.0 C325.2,195.7 323.2,200.0 320.0,202.0 C316.8,204.0 310.3,202.7 307.0,204.0 C303.7,205.3 301.8,208.3 300.0,210.0 C298.2,211.7 298.5,213.3 296.0,214.0 C293.5,214.7 289.3,214.2 285.0,214.0 C280.7,213.8 272.9,211.1 270.0,212.5 C267.1,213.9 269.6,220.2 267.5,222.5 C265.4,224.8 261.2,225.2 257.5,226.0 C253.8,226.8 248.6,227.7 245.0,227.5 C241.4,227.3 237.7,227.1 236.0,225.0 C234.3,222.9 234.3,218.5 235.0,215.0 C235.7,211.5 239.6,206.5 240.0,204.0 C240.4,201.5 239.6,200.0 237.5,200.0 C235.4,200.0 230.8,201.9 227.5,204.0 C224.2,206.1 219.8,209.4 217.5,212.5 C215.2,215.6 216.5,219.6 214.0,222.5 C211.5,225.4 205.5,227.1 202.5,230.0 C199.5,232.9 198.5,236.2 196.0,240.0 C193.5,243.8 190.2,249.6 187.5,252.5 C184.8,255.4 183.8,255.4 180.0,257.5 C176.2,259.6 169.2,263.3 165.0,265.0 C160.8,266.7 157.5,265.8 155.0,267.5 C152.5,269.2 151.0,271.6 150.0,275.0 C149.0,278.4 157.1,283.8 148.8,288.0 C140.4,292.2 124.8,306.3 100.0,300.0 C75.2,293.7 16.7,283.3 0.0,250.0 C-16.7,216.7 -16.7,131.7 0.0,100.0 C16.7,68.3 50.0,68.3 100.0,60.0 C150.0,51.7 250.0,43.3 300.0,50.0 C350.0,56.7 384.7,88.8 400.0,100.0 C415.3,111.2 395.0,112.5 392.0,117.0 Z" fill="#fee090"/>
<path d="M310.0,230.0 C311.5,227.5 314.6,225.0 317.5,225.0 C320.4,225.0 324.8,228.2 327.5,230.0 C330.2,231.8 333.8,233.9 333.8,236.0 C333.8,238.1 330.6,241.0 327.5,242.5 C324.4,244.0 318.1,245.4 315.0,245.0 C311.9,244.6 309.6,242.5 308.8,240.0 C307.9,237.5 308.5,232.5 310.0,230.0 Z" fill="#fee090"/>
<path d="M383.8,227.0 C385.6,224.8 391.6,223.5 396.0,222.0 C400.4,220.5 404.3,219.3 410.0,218.0 C415.7,216.7 425.0,213.7 430.0,214.0 C435.0,214.3 436.7,217.3 440.0,220.0 C443.3,222.7 446.3,228.5 450.0,230.0 C453.7,231.5 459.8,227.3 462.0,229.0 C464.2,230.7 463.1,236.0 463.0,240.0 C462.9,244.0 463.7,249.7 461.5,253.0 C459.3,256.3 454.8,258.2 450.0,260.0 C445.2,261.8 437.5,263.9 432.5,263.5 C427.5,263.1 423.8,259.3 420.0,257.5 C416.2,255.7 412.5,254.6 410.0,252.5 C407.5,250.4 407.3,247.1 405.0,245.0 C402.7,242.9 399.6,241.7 396.2,240.0 C392.9,238.3 387.1,237.2 385.0,235.0 C382.9,232.8 381.9,229.2 383.8,227.0 Z" fill="#fee090"/>
<ellipse cx="236" cy="286" rx="2.8" ry="3.2" fill="#fee090"/>
<path d="M322.0,80.0 C322.8,87.9 309.9,92.5 305.0,97.5 C300.1,102.5 296.7,106.2 292.5,110.0 C288.3,113.8 283.8,117.1 280.0,120.0 C276.2,122.9 273.8,125.4 270.0,127.5 C266.2,129.6 261.7,130.4 257.5,132.5 C253.3,134.6 249.2,137.9 245.0,140.0 C240.8,142.1 235.8,143.3 232.5,145.0 C229.2,146.7 227.1,146.2 225.0,150.0 C222.9,153.8 221.2,162.9 220.0,167.5 C218.8,172.1 218.8,173.8 217.5,177.5 C216.2,181.2 214.6,186.2 212.5,190.0 C210.4,193.8 207.9,197.3 205.0,200.0 C202.1,202.7 200.0,203.9 195.0,206.0 C190.0,208.1 180.8,210.6 175.0,212.5 C169.2,214.4 165.4,215.8 160.0,217.5 C154.6,219.2 147.5,220.4 142.5,222.5 C137.5,224.6 133.8,227.8 130.0,230.0 C126.2,232.2 122.2,233.5 120.0,236.0 C117.8,238.5 117.0,241.8 117.0,245.0 C117.0,248.2 120.2,252.0 120.0,255.0 C119.8,258.0 118.0,260.8 116.0,263.0 C114.0,265.2 112.3,266.8 108.0,268.0 C103.7,269.2 108.0,273.0 90.0,270.0 C72.0,267.0 15.0,278.3 0.0,250.0 C-15.0,221.7 -16.7,131.7 0.0,100.0 C16.7,68.3 50.0,68.3 100.0,60.0 C150.0,51.7 263.0,46.7 300.0,50.0 C337.0,53.3 321.2,72.1 322.0,80.0 Z" fill="#fdae61"/>
<path d="M246.2,187.5 C247.7,184.0 249.0,181.5 252.5,178.8 C256.0,176.0 262.1,172.8 267.5,171.2 C272.9,169.7 280.0,168.9 285.0,169.5 C290.0,170.1 294.6,172.8 297.5,175.0 C300.4,177.2 302.1,179.2 302.5,182.5 C302.9,185.8 302.1,191.5 300.0,195.0 C297.9,198.5 293.8,201.8 290.0,203.8 C286.2,205.8 281.5,207.0 277.5,207.0 C273.5,207.0 269.2,202.8 266.2,203.8 C263.3,204.7 262.5,210.0 260.0,212.5 C257.5,215.0 253.8,218.3 251.2,218.8 C248.8,219.2 246.2,218.1 245.0,215.0 C243.8,211.9 243.8,204.6 244.0,200.0 C244.2,195.4 244.8,191.0 246.2,187.5 Z" fill="#fdae61"/>
<path d="M420.0,237.5 C420.9,235.4 422.5,232.5 425.0,231.2 C427.5,230.0 432.1,229.0 435.0,230.0 C437.9,231.0 441.5,234.8 442.5,237.5 C443.5,240.2 442.9,243.8 441.2,246.2 C439.6,248.8 435.6,251.9 432.5,252.5 C429.4,253.1 424.7,251.5 422.5,250.0 C420.3,248.5 419.9,245.8 419.5,243.8 C419.1,241.7 419.1,239.6 420.0,237.5 Z" fill="#fdae61"/>
<path d="M192.0,128.0 C193.0,136.3 188.2,136.3 186.0,140.0 C183.8,143.7 181.4,147.5 178.8,150.0 C176.1,152.5 173.1,154.0 170.0,155.0 C166.9,156.0 162.5,157.2 160.0,156.0 C157.5,154.8 156.7,150.4 155.0,147.5 C153.3,144.6 152.5,140.9 150.0,138.8 C147.5,136.6 143.8,135.2 140.0,134.5 C136.2,133.8 131.7,133.6 127.5,134.5 C123.3,135.4 118.3,137.8 115.0,140.0 C111.7,142.2 109.0,144.8 107.5,147.5 C106.0,150.2 105.4,153.8 106.2,156.2 C107.1,158.8 109.4,160.8 112.5,162.5 C115.6,164.2 120.4,165.5 125.0,166.2 C129.6,167.0 135.0,166.7 140.0,167.0 C145.0,167.3 151.7,166.7 155.0,168.0 C158.3,169.3 158.8,171.3 160.0,175.0 C161.2,178.7 161.9,186.2 162.5,190.0 C163.1,193.8 165.0,194.8 163.8,197.5 C162.5,200.2 158.3,203.1 155.0,206.0 C151.7,208.9 148.8,213.5 143.8,215.0 C138.8,216.5 130.6,214.2 125.0,215.0 C119.4,215.8 114.2,218.2 110.0,220.0 C105.8,221.8 103.0,224.0 100.0,226.0 C97.0,228.0 100.3,226.3 92.0,232.0 C83.7,237.7 65.3,257.0 50.0,260.0 C34.7,263.0 8.3,276.7 0.0,250.0 C-8.3,223.3 -16.7,131.7 0.0,100.0 C16.7,68.3 70.0,61.7 100.0,60.0 C130.0,58.3 164.7,78.7 180.0,90.0 C195.3,101.3 191.0,119.7 192.0,128.0 Z" fill="#f46d43"/>
<path d="M127.0,116.0 C129.9,125.6 122.0,124.8 117.5,127.5 C113.0,130.2 104.6,130.4 100.0,132.5 C95.4,134.6 92.7,136.7 90.0,140.0 C87.3,143.3 85.0,148.3 83.8,152.5 C82.5,156.7 81.5,160.8 82.5,165.0 C83.5,169.2 88.7,174.0 90.0,177.5 C91.3,181.0 93.0,184.0 90.5,186.2 C88.0,188.5 79.7,189.7 75.0,191.2 C70.3,192.8 68.3,194.5 62.5,195.5 C56.7,196.5 47.1,196.7 40.0,197.0 C32.9,197.3 25.0,197.0 20.0,197.5 C15.0,198.0 13.3,202.9 10.0,200.0 C6.7,197.1 1.7,196.7 0.0,180.0 C-1.7,163.3 -16.7,118.3 0.0,100.0 C16.7,81.7 78.8,67.3 100.0,70.0 C121.2,72.7 124.1,106.4 127.0,116.0 Z" fill="#d73027"/>
<path d="M143.0,115.2 C144.6,113.6 149.9,110.5 152.6,110.5 C155.2,110.5 158.4,113.8 158.9,115.2 C159.4,116.6 157.1,117.9 155.4,118.8 C153.8,119.7 151.1,120.2 149.0,120.4 C146.9,120.6 144.0,121.1 143.0,120.2 C142.0,119.3 141.4,116.8 143.0,115.2 Z" fill="#d73027"/>
<path d="M18.8,150.0 L21.5,147.0 L29.0,147.0 L29.0,157.0 L25.0,159.5 L18.8,157.0 Z" fill="#a50026"/>
<path d="M104.0,102.6 L122.3,95.5 L126.0,102.6 L121.6,106.8 L113.9,106.0 L107.6,104.7 Z" fill="#a50026"/>
<path d="M360.0,160.0 C360.6,157.3 363.8,155.0 367.5,153.8 C371.2,152.5 377.9,152.4 382.5,152.5 C387.1,152.6 390.4,154.6 395.0,154.5 C399.6,154.4 404.6,151.9 410.0,152.0 C415.4,152.1 423.1,153.2 427.5,155.0 C431.9,156.8 434.8,159.2 436.2,162.5 C437.7,165.8 438.1,170.0 436.2,175.0 C434.4,180.0 429.0,188.1 425.0,192.5 C421.0,196.9 416.2,199.6 412.5,201.2 C408.8,202.9 405.8,203.3 402.5,202.5 C399.2,201.7 394.4,199.6 392.5,196.2 C390.6,192.9 392.5,185.4 391.2,182.5 C390.0,179.6 388.1,180.0 385.0,178.8 C381.9,177.5 376.0,176.5 372.5,175.0 C369.0,173.5 365.8,172.5 363.8,170.0 C361.7,167.5 359.4,162.7 360.0,160.0 Z" fill="#e0f3f8"/>
<path d="M336.2,205.0 C336.2,202.1 338.1,198.3 340.0,196.2 C341.9,194.2 344.2,192.5 347.5,192.5 C350.8,192.5 357.3,194.2 360.0,196.2 C362.7,198.3 363.8,201.7 363.8,205.0 C363.8,208.3 362.3,214.0 360.0,216.2 C357.7,218.5 353.3,219.2 350.0,218.8 C346.7,218.3 342.3,216.0 340.0,213.8 C337.7,211.5 336.2,207.9 336.2,205.0 Z" fill="#e0f3f8"/>
<path d="M251.2,247.5 C250.8,243.8 251.5,240.8 253.8,237.5 C256.0,234.2 261.0,230.0 265.0,227.5 C269.0,225.0 272.5,223.3 277.5,222.5 C282.5,221.7 291.2,221.2 295.0,222.5 C298.8,223.8 299.8,227.5 300.0,230.0 C300.2,232.5 298.8,235.0 296.2,237.5 C293.8,240.0 287.3,242.1 285.0,245.0 C282.7,247.9 283.8,251.7 282.5,255.0 C281.2,258.3 280.0,262.9 277.5,265.0 C275.0,267.1 271.0,268.3 267.5,267.5 C264.0,266.7 259.0,263.3 256.2,260.0 C253.5,256.7 251.7,251.2 251.2,247.5 Z" fill="#e0f3f8"/>
<path d="M218.0,329.0 C223.8,326.1 229.7,324.4 235.0,322.5 C240.3,320.6 244.6,319.6 250.0,317.5 C255.4,315.4 262.5,312.5 267.5,310.0 C272.5,307.5 276.9,305.0 280.0,302.5 C283.1,300.0 285.6,298.3 286.0,295.0 C286.4,291.7 282.9,286.5 282.5,282.5 C282.1,278.5 281.7,273.9 283.8,271.0 C285.8,268.1 290.6,266.7 295.0,265.0 C299.4,263.3 305.0,261.7 310.0,261.0 C315.0,260.3 320.8,260.3 325.0,261.0 C329.2,261.7 331.2,262.7 335.0,265.0 C338.8,267.3 344.2,271.7 347.5,275.0 C350.8,278.3 352.1,282.1 355.0,285.0 C357.9,287.9 360.8,290.8 365.0,292.5 C369.2,294.2 374.2,295.4 380.0,295.0 C385.8,294.6 394.2,292.5 400.0,290.0 C405.8,287.5 410.0,282.9 415.0,280.0 C420.0,277.1 424.2,274.2 430.0,272.5 C435.8,270.8 444.6,271.2 450.0,270.0 C455.4,268.8 458.8,267.5 462.5,265.0 C466.2,262.5 470.6,258.8 472.5,255.0 C474.4,251.2 473.8,246.2 473.8,242.5 C473.8,238.8 473.0,235.9 472.5,232.5 C472.0,229.1 456.4,224.1 471.0,222.0 C485.6,219.9 545.2,172.5 560.0,220.0 C574.8,267.5 620.0,459.2 560.0,507.0 C500.0,554.8 260.0,534.8 200.0,507.0 C140.0,479.2 197.0,369.7 200.0,340.0 C203.0,310.3 212.2,331.9 218.0,329.0 Z" fill="#e0f3f8"/>
<ellipse cx="284" cy="236" rx="5.5" ry="3.2" fill="#abd9e9"/>
<ellipse cx="323.7" cy="274" rx="1.6" ry="1.4" fill="#abd9e9"/>
<path d="M486.0,230.0 C473.3,233.3 484.3,240.8 483.8,245.0 C483.2,249.2 484.0,251.2 482.5,255.0 C481.0,258.8 478.3,264.2 475.0,267.5 C471.7,270.8 467.1,273.1 462.5,275.0 C457.9,276.9 452.1,277.8 447.5,279.0 C442.9,280.2 438.3,281.1 435.0,282.5 C431.7,283.9 429.6,285.0 427.5,287.5 C425.4,290.0 424.2,294.6 422.5,297.5 C420.8,300.4 419.6,302.5 417.5,305.0 C415.4,307.5 413.8,310.0 410.0,312.5 C406.2,315.0 399.2,318.3 395.0,320.0 C390.8,321.7 388.8,322.9 385.0,322.5 C381.2,322.1 376.7,319.6 372.5,317.5 C368.3,315.4 364.6,311.7 360.0,310.0 C355.4,308.3 350.0,307.5 345.0,307.5 C340.0,307.5 334.0,308.3 330.0,310.0 C326.0,311.7 323.3,315.0 321.2,317.5 C319.2,320.0 317.7,322.1 317.5,325.0 C317.3,327.9 318.8,332.1 320.0,335.0 C321.2,337.9 324.3,339.7 325.0,342.5 C325.7,345.3 325.5,349.6 324.0,352.0 C322.5,354.4 318.3,355.7 316.0,357.0 C313.7,358.3 311.6,360.3 310.0,360.0 C308.4,359.7 307.9,357.5 306.2,355.0 C304.6,352.5 302.7,347.5 300.0,345.0 C297.3,342.5 295.0,340.8 290.0,340.0 C285.0,339.2 276.7,339.4 270.0,340.0 C263.3,340.6 256.2,341.9 250.0,343.8 C243.8,345.6 237.2,348.5 232.5,351.0 C227.8,353.5 227.4,356.7 222.0,359.0 C216.6,361.3 203.7,340.3 200.0,365.0 C196.3,389.7 140.0,483.3 200.0,507.0 C260.0,530.7 500.0,554.0 560.0,507.0 C620.0,460.0 572.3,271.2 560.0,225.0 C547.7,178.8 498.7,226.7 486.0,230.0 Z" fill="#abd9e9"/>
<path d="M501.0,241.0 C490.3,242.2 496.9,244.2 495.7,247.0 C494.5,249.8 495.1,254.6 494.0,257.9 C492.9,261.2 490.9,263.6 489.4,267.0 C487.8,270.4 486.5,274.5 484.7,278.0 C482.9,281.5 480.5,285.4 478.4,287.8 C476.3,290.2 474.4,291.2 472.0,292.5 C469.6,293.8 467.9,294.4 464.0,295.7 C460.1,296.9 452.8,298.7 448.4,300.0 C444.0,301.3 441.0,302.1 437.5,303.8 C434.0,305.4 430.0,307.7 427.5,310.0 C425.0,312.3 424.6,314.6 422.5,317.5 C420.4,320.4 417.9,324.4 415.0,327.5 C412.1,330.6 407.9,334.2 405.0,336.2 C402.1,338.3 399.6,338.1 397.5,340.0 C395.4,341.9 394.6,345.4 392.5,347.5 C390.4,349.6 387.9,351.7 385.0,352.5 C382.1,353.3 377.9,353.3 375.0,352.5 C372.1,351.7 370.0,348.1 367.5,347.5 C365.0,346.9 361.7,347.7 360.0,348.8 C358.3,349.8 359.2,351.5 357.5,353.8 C355.8,356.0 352.9,360.2 350.0,362.5 C347.1,364.8 342.9,365.4 340.0,367.5 C337.1,369.6 334.2,372.1 332.5,375.0 C330.8,377.9 330.6,381.7 330.0,385.0 C329.4,388.3 328.8,392.1 328.8,395.0 C328.8,397.9 330.5,399.5 330.0,402.5 C329.5,405.5 328.7,410.4 326.0,413.0 C323.3,415.6 317.5,413.5 314.0,418.0 C310.5,422.5 300.7,434.7 305.0,440.0 C309.3,445.3 331.7,449.2 340.0,450.0 C348.3,450.8 351.2,446.0 355.0,445.0 C358.8,444.0 359.6,444.6 362.5,443.8 C365.4,442.9 369.2,439.6 372.5,440.0 C375.8,440.4 379.2,444.2 382.5,446.2 C385.8,448.3 389.6,450.4 392.5,452.5 C395.4,454.6 398.1,455.8 400.0,458.8 C401.9,461.7 402.1,467.3 403.8,470.0 C405.4,472.7 406.9,474.6 410.0,475.0 C413.1,475.4 417.9,473.5 422.5,472.5 C427.1,471.5 433.3,470.2 437.5,468.8 C441.7,467.3 444.6,465.6 447.5,463.8 C450.4,461.9 452.5,459.0 455.0,457.5 C457.5,456.0 459.7,456.2 462.5,455.0 C465.3,453.8 455.8,452.5 472.0,450.0 C488.2,447.5 545.3,475.0 560.0,440.0 C574.7,405.0 569.8,273.2 560.0,240.0 C550.2,206.8 511.7,239.8 501.0,241.0 Z" fill="#74add1"/>
<ellipse cx="339" cy="322" rx="6.5" ry="4.5" fill="#74add1"/>
<path d="M242.5,390.0 C242.4,386.8 245.0,385.4 247.5,382.5 C250.0,379.6 253.8,375.2 257.5,372.5 C261.2,369.8 265.4,367.5 270.0,366.2 C274.6,365.0 280.8,364.4 285.0,365.0 C289.2,365.6 292.2,368.2 295.0,370.0 C297.8,371.8 300.5,371.8 302.0,376.0 C303.5,380.2 309.3,389.3 304.0,395.0 C298.7,400.7 279.3,408.8 270.0,410.0 C260.7,411.2 252.6,405.3 248.0,402.0 C243.4,398.7 242.6,393.2 242.5,390.0 Z" fill="#74add1"/>
<path d="M319.0,419.0 L329.5,419.0 L330.0,426.0 L322.0,428.0 Z" fill="#abd9e9"/>
<path d="M518.0,254.5 C509.7,256.0 512.4,257.8 510.0,259.0 C507.6,260.2 505.7,259.8 503.6,261.5 C501.5,263.2 499.4,266.2 497.3,269.0 C495.2,271.8 492.6,274.9 491.0,278.0 C489.4,281.1 487.8,284.6 487.8,287.8 C487.8,291.0 490.7,293.8 491.0,297.0 C491.3,300.2 491.2,304.1 489.4,306.8 C487.6,309.5 483.7,311.5 480.0,313.0 C476.3,314.5 471.8,314.4 467.0,316.0 C462.2,317.6 456.2,320.2 451.5,322.5 C446.8,324.8 442.4,327.9 439.0,330.0 C435.6,332.1 433.2,333.1 431.2,335.0 C429.3,336.9 427.5,338.8 427.5,341.2 C427.5,343.8 430.0,347.3 431.2,350.0 C432.5,352.7 435.2,355.2 435.0,357.5 C434.8,359.8 432.5,362.1 430.0,363.8 C427.5,365.4 423.8,366.7 420.0,367.5 C416.2,368.3 411.2,367.9 407.5,368.8 C403.8,369.6 400.0,370.6 397.5,372.5 C395.0,374.4 393.1,376.8 392.5,380.0 C391.9,383.2 393.0,387.8 394.0,392.0 C395.0,396.2 396.9,401.6 398.8,405.0 C400.6,408.4 402.3,409.8 405.0,412.5 C407.7,415.2 412.1,418.5 415.0,421.2 C417.9,424.0 419.6,426.7 422.5,428.8 C425.4,430.8 428.8,432.9 432.5,433.8 C436.2,434.6 441.2,434.2 445.0,433.8 C448.8,433.3 435.8,431.6 455.0,431.0 C474.2,430.4 542.5,460.2 560.0,430.0 C577.5,399.8 567.0,279.2 560.0,250.0 C553.0,220.8 526.3,253.0 518.0,254.5 Z" fill="#4575b4"/>
<path d="M497.3,281.5 C498.3,279.9 501.9,278.1 505.0,278.4 C508.1,278.6 514.4,281.4 516.0,283.0 C517.6,284.6 515.6,286.0 514.6,287.8 C513.6,289.6 511.6,292.9 510.0,294.0 C508.4,295.1 506.9,295.5 505.0,294.5 C503.1,293.5 500.2,290.0 498.9,287.8 C497.6,285.6 496.3,283.1 497.3,281.5 Z" fill="#313695"/>
<path d="M481.5,336.7 C482.6,334.0 484.9,330.8 487.8,328.8 C490.7,326.8 495.2,325.2 498.9,324.7 C502.6,324.2 507.0,324.8 510.0,325.7 C513.0,326.6 516.7,327.9 517.0,330.0 C517.3,332.1 513.7,336.0 512.0,338.0 C510.3,340.0 507.7,340.2 507.0,342.0 C506.3,343.8 508.7,347.2 508.0,349.0 C507.3,350.8 504.0,350.8 503.0,353.0 C502.0,355.2 503.5,360.7 502.0,362.0 C500.5,363.3 496.2,361.8 494.0,361.0 C491.8,360.2 490.8,358.2 489.0,357.0 C487.2,355.8 484.2,356.0 483.0,354.0 C481.8,352.0 481.8,347.9 481.5,345.0 C481.2,342.1 480.4,339.4 481.5,336.7 Z" fill="#313695"/>
<path d="M435.0,387.5 C434.8,385.4 436.2,381.7 438.8,380.0 C441.2,378.3 447.3,377.5 450.0,377.5 C452.7,377.5 455.0,378.5 455.0,380.0 C455.0,381.5 452.5,384.2 450.0,386.2 C447.5,388.3 442.5,392.3 440.0,392.5 C437.5,392.7 435.2,389.6 435.0,387.5 Z" fill="#313695"/>
</g>
<use href="#lines"/>
<!-- right map -->
<g transform="translate(640,0)">
<g clip-path="url(#be)">
<rect x="0" y="60" width="560" height="447" fill="#b0dcea"/>
<path d="M432.0,128.0 C409.3,129.8 425.8,129.8 424.0,131.0 C422.2,132.2 421.7,133.5 421.0,135.0 C420.3,136.5 420.4,137.5 420.0,140.0 C419.6,142.5 420.4,147.3 418.8,150.0 C417.1,152.7 414.0,154.9 410.0,156.2 C406.0,157.6 401.7,157.8 395.0,158.0 C388.3,158.2 376.5,158.2 370.0,157.5 C363.5,156.8 359.6,156.2 356.2,153.8 C352.9,151.2 351.9,146.0 350.0,142.5 C348.1,139.0 347.1,135.6 345.0,132.5 C342.9,129.4 340.4,125.5 337.5,123.8 C334.6,122.0 331.0,121.6 327.5,122.0 C324.0,122.4 319.2,123.9 316.2,126.2 C313.3,128.6 311.4,132.3 310.0,136.2 C308.6,140.2 308.4,146.0 308.0,150.0 C307.6,154.0 307.0,156.7 307.5,160.0 C308.0,163.3 309.6,166.7 311.2,170.0 C312.9,173.3 315.8,176.5 317.5,180.0 C319.2,183.5 320.8,188.1 321.2,191.0 C321.7,193.9 321.9,196.2 320.0,197.5 C318.1,198.8 313.3,197.8 310.0,198.8 C306.7,199.7 303.3,201.7 300.0,203.0 C296.7,204.3 293.8,205.6 290.0,206.4 C286.2,207.2 280.9,207.1 277.0,207.7 C273.1,208.3 269.7,208.7 266.7,210.0 C263.7,211.3 261.6,213.2 259.0,215.4 C256.4,217.6 254.0,220.9 251.0,223.0 C248.0,225.1 244.0,226.1 241.0,228.0 C238.0,229.9 234.9,233.9 233.0,234.6 C231.1,235.3 230.5,233.5 229.5,232.0 C228.5,230.5 227.2,227.8 227.0,225.6 C226.8,223.4 228.0,220.9 228.0,219.0 C228.0,217.1 229.1,214.8 227.0,214.0 C224.9,213.2 219.5,213.3 215.4,214.0 C211.3,214.7 207.6,217.8 202.5,218.0 C197.4,218.2 188.7,215.4 184.6,215.4 C180.5,215.4 179.5,216.3 178.0,218.0 C176.5,219.7 177.1,223.7 175.6,225.6 C174.1,227.5 171.1,227.8 169.0,229.5 C166.9,231.2 164.1,233.2 162.8,236.0 C161.6,238.8 162.3,244.7 161.5,246.0 C160.7,247.3 159.2,245.5 157.7,243.6 C156.2,241.7 155.8,236.1 152.6,234.6 C149.4,233.1 142.8,234.4 138.5,234.6 C134.2,234.8 128.2,235.1 127.0,236.0 C125.8,236.9 130.1,238.2 131.0,240.0 C131.9,241.8 133.2,244.8 132.5,247.0 C131.8,249.2 128.8,251.8 127.0,253.0 C125.2,254.2 122.2,253.1 121.5,254.5 C120.8,255.9 123.4,259.1 123.0,261.5 C122.6,263.9 120.5,266.4 119.0,269.0 C117.5,271.6 117.2,274.3 114.0,277.0 C110.8,279.7 104.0,276.2 100.0,285.0 C96.0,293.8 81.7,307.5 90.0,330.0 C98.3,352.5 115.0,388.3 150.0,420.0 C185.0,451.7 231.7,503.3 300.0,520.0 C368.3,536.7 510.0,556.7 560.0,520.0 C610.0,483.3 600.0,366.7 600.0,300.0 C600.0,233.3 588.0,148.7 560.0,120.0 C532.0,91.3 454.7,126.2 432.0,128.0 Z" fill="#5e93c6"/>
<path d="M226.4,157.8 C226.4,155.6 229.3,151.7 231.1,149.5 C232.9,147.3 234.1,145.6 237.0,144.8 C239.9,144.0 245.5,143.6 248.3,144.8 C251.1,146.0 251.9,149.5 253.6,151.8 C255.3,154.2 258.8,156.6 258.3,158.9 C257.8,161.2 254.0,164.2 250.7,165.4 C247.3,166.6 241.5,166.5 238.2,166.0 C234.9,165.5 233.1,163.9 231.1,162.5 C229.1,161.1 226.4,160.0 226.4,157.8 Z" fill="#5e93c6"/>
<path d="M560.0,205.0 C533.3,179.8 461.3,208.0 440.0,209.0 C418.7,210.0 434.5,209.8 432.0,211.0 C429.5,212.2 427.8,214.8 425.0,216.2 C422.2,217.8 419.2,219.4 415.0,220.0 C410.8,220.6 405.0,219.6 400.0,220.0 C395.0,220.4 389.2,221.2 385.0,222.5 C380.8,223.8 377.9,225.8 375.0,228.0 C372.1,230.2 370.6,234.2 367.7,236.0 C364.8,237.8 360.8,239.3 357.4,238.5 C353.9,237.7 350.4,233.2 347.0,231.0 C343.6,228.8 340.8,226.5 337.0,225.6 C333.2,224.7 328.3,224.9 324.0,225.6 C319.7,226.2 315.2,227.3 311.0,229.5 C306.8,231.7 301.9,235.3 298.5,238.5 C295.1,241.7 292.3,245.7 290.8,248.7 C289.3,251.7 288.2,254.3 289.5,256.4 C290.8,258.5 294.9,260.6 298.5,261.5 C302.1,262.4 306.3,262.1 311.0,261.5 C315.7,260.9 321.9,259.0 326.7,257.7 C331.4,256.4 335.2,254.7 339.5,253.8 C343.8,253.0 348.9,251.7 352.3,252.6 C355.7,253.5 357.6,256.0 360.0,259.0 C362.4,262.0 365.1,267.5 366.4,270.5 C367.7,273.5 368.4,274.9 368.0,277.0 C367.6,279.1 365.2,280.5 364.0,283.0 C362.8,285.5 361.2,289.0 361.0,292.0 C360.8,295.0 361.0,298.4 362.5,301.0 C364.0,303.6 367.0,306.2 370.0,307.7 C373.0,309.2 377.0,310.9 380.5,310.0 C384.0,309.1 387.8,305.5 390.8,302.5 C393.8,299.5 397.2,295.4 398.5,292.0 C399.8,288.6 399.6,284.7 398.5,282.0 C397.4,279.3 394.0,277.6 392.0,275.6 C390.0,273.6 387.6,272.8 386.5,270.0 C385.4,267.2 385.4,262.6 385.6,259.0 C385.9,255.4 386.3,251.3 388.0,248.7 C389.7,246.1 393.0,244.7 396.0,243.6 C399.0,242.5 402.6,241.6 406.0,242.0 C409.4,242.4 413.4,244.2 416.4,246.0 C419.4,247.8 421.9,250.6 424.0,252.5 C426.1,254.4 426.4,256.0 429.0,257.7 C431.6,259.4 435.6,261.8 439.5,262.8 C443.4,263.9 448.7,263.4 452.5,264.0 C456.3,264.6 460.2,264.7 462.5,266.5 C464.8,268.3 466.2,271.9 466.2,275.0 C466.2,278.1 464.4,282.0 462.5,285.0 C460.6,288.0 454.7,290.5 455.0,293.0 C455.3,295.5 461.3,298.4 464.4,300.0 C467.5,301.6 470.2,302.4 473.8,302.5 C477.4,302.6 482.2,300.2 485.7,300.8 C489.2,301.4 492.8,304.1 495.0,306.0 C497.2,307.9 498.7,310.0 498.7,312.0 C498.7,314.0 496.6,316.2 495.0,318.0 C493.4,319.8 489.4,320.7 489.0,322.6 C488.6,324.6 492.2,327.0 492.8,329.7 C493.4,332.4 494.0,336.0 492.8,339.0 C491.6,342.0 488.2,345.2 485.7,347.5 C483.2,349.8 481.2,350.6 478.0,353.0 C474.8,355.4 469.8,359.9 466.7,361.7 C463.6,363.5 462.4,362.8 459.6,364.0 C456.8,365.2 452.4,366.8 450.0,368.8 C447.6,370.8 446.9,373.4 445.4,375.9 C443.8,378.4 442.7,381.5 440.7,384.0 C438.7,386.5 436.8,389.4 433.6,391.0 C430.5,392.6 425.7,392.9 421.8,393.6 C417.9,394.3 413.2,393.1 410.0,395.0 C406.8,396.9 405.0,402.1 402.5,405.0 C400.0,407.9 397.9,410.4 395.0,412.5 C392.1,414.6 388.8,416.2 385.0,417.5 C381.2,418.8 376.7,419.2 372.5,420.0 C368.3,420.8 363.3,421.2 360.0,422.5 C356.7,423.8 354.6,425.6 352.5,427.5 C350.4,429.4 349.9,431.3 347.5,433.8 C345.1,436.2 340.9,436.0 338.0,442.0 C335.1,448.0 329.7,457.0 330.0,470.0 C330.3,483.0 301.7,511.7 340.0,520.0 C378.3,528.3 516.7,546.7 560.0,520.0 C603.3,493.3 600.0,412.5 600.0,360.0 C600.0,307.5 586.7,230.2 560.0,205.0 Z" fill="#b0dcea"/>
<path d="M300.0,302.5 C301.1,299.9 304.6,297.3 307.5,296.2 C310.4,295.2 314.6,295.2 317.5,296.2 C320.4,297.3 323.3,299.4 325.0,302.5 C326.7,305.6 326.7,311.7 327.5,315.0 C328.3,318.3 327.9,319.2 330.0,322.5 C332.1,325.8 335.8,331.9 340.0,335.0 C344.2,338.1 351.5,339.0 355.0,341.2 C358.5,343.5 361.2,345.8 361.2,348.8 C361.2,351.7 358.1,356.2 355.0,358.8 C351.9,361.2 346.2,361.9 342.5,363.8 C338.8,365.6 335.9,368.0 332.5,370.0 C329.1,372.0 325.4,376.3 322.0,376.0 C318.6,375.7 314.4,370.7 312.0,368.0 C309.6,365.3 308.7,364.2 307.5,360.0 C306.3,355.8 305.8,348.3 305.0,342.5 C304.2,336.7 303.2,330.1 302.5,325.0 C301.8,319.9 301.4,315.8 301.0,312.0 C300.6,308.2 298.9,305.1 300.0,302.5 Z" fill="#b0dcea"/>
<path d="M182.0,274.0 C182.5,271.2 183.8,267.5 186.0,265.4 C188.2,263.3 191.0,262.1 195.0,261.5 C199.0,260.9 205.8,262.1 210.0,261.5 C214.2,260.9 216.2,258.3 220.5,257.7 C224.8,257.1 232.4,256.6 236.0,257.7 C239.6,258.8 240.3,261.3 242.0,264.0 C243.7,266.7 245.3,270.6 246.0,274.0 C246.7,277.4 247.1,280.9 246.0,284.6 C244.9,288.3 242.2,292.4 239.7,296.0 C237.2,299.6 234.4,304.7 230.8,306.4 C227.2,308.1 222.7,307.0 218.0,306.4 C213.3,305.8 207.2,305.3 202.5,302.5 C197.8,299.7 192.9,293.1 189.7,289.7 C186.4,286.3 184.3,284.6 183.0,282.0 C181.7,279.4 181.5,276.8 182.0,274.0 Z" fill="#b0dcea"/>
<path d="M314.0,382.0 C316.5,380.0 321.7,384.5 325.0,386.2 C328.3,388.0 331.9,390.4 333.8,392.5 C335.6,394.6 336.7,396.5 336.2,398.8 C335.8,401.0 332.7,404.0 331.2,406.2 C329.8,408.5 330.0,411.4 327.5,412.5 C325.0,413.6 318.9,415.4 316.0,413.0 C313.1,410.6 310.3,403.2 310.0,398.0 C309.7,392.8 311.5,384.0 314.0,382.0 Z" fill="#b0dcea"/>
<path d="M386.2,176.2 C387.4,174.8 390.5,173.1 392.5,173.8 C394.5,174.4 397.4,177.7 398.0,180.0 C398.6,182.3 397.6,185.9 396.2,187.5 C394.9,189.1 391.8,190.3 390.0,189.5 C388.2,188.7 386.1,184.7 385.5,182.5 C384.9,180.3 385.1,177.7 386.2,176.2 Z" fill="#b0dcea"/>
<path d="M349.0,170.0 C349.8,168.6 351.2,166.9 353.0,166.5 C354.8,166.1 358.5,166.6 360.0,167.5 C361.5,168.4 362.5,170.3 362.0,172.0 C361.5,173.7 358.8,176.4 357.0,177.5 C355.2,178.6 352.4,178.9 351.0,178.5 C349.6,178.1 348.8,176.4 348.5,175.0 C348.2,173.6 348.2,171.4 349.0,170.0 Z" fill="#b0dcea"/>
<path d="M481.0,230.0 C479.2,233.0 481.2,245.0 482.5,250.0 C483.8,255.0 486.2,257.2 488.8,260.0 C491.2,262.8 495.1,265.8 497.5,266.5 C499.9,267.2 501.4,266.2 503.0,264.0 C504.6,261.8 507.3,256.5 507.0,253.0 C506.7,249.5 503.3,246.5 501.0,243.0 C498.7,239.5 496.3,234.2 493.0,232.0 C489.7,229.8 482.8,227.0 481.0,230.0 Z" fill="#5e93c6"/>
<path d="M427.5,486.0 L431.2,480.0 L438.8,485.5 L433.0,490.0 Z" fill="#5e93c6"/>
<path d="M232.5,207.0 L237.5,204.5 L237.5,209.0 Z" fill="#5e93c6"/>
<path d="M262.5,225.0 C262.7,220.9 263.9,218.1 266.2,216.5 C268.6,214.9 272.6,214.5 276.5,215.5 C280.4,216.5 286.6,220.2 289.7,222.5 C292.8,224.8 294.8,227.1 295.0,229.5 C295.2,231.9 293.0,234.2 291.0,237.0 C289.0,239.8 285.6,243.4 283.0,246.0 C280.4,248.6 278.2,251.2 275.5,252.5 C272.8,253.8 268.3,255.9 266.5,254.0 C264.7,252.1 265.5,245.8 264.8,241.0 C264.1,236.2 262.3,229.1 262.5,225.0 Z" fill="#313695"/>
<path d="M420.0,275.0 C422.3,274.0 426.7,279.0 430.0,280.0 C433.3,281.0 437.9,280.2 440.0,281.2 C442.1,282.3 442.5,284.0 442.5,286.2 C442.5,288.5 441.7,292.3 440.0,295.0 C438.3,297.7 435.0,300.6 432.5,302.5 C430.0,304.4 426.0,304.2 425.0,306.2 C424.0,308.3 426.7,312.5 426.2,315.0 C425.8,317.5 424.8,320.4 422.5,321.2 C420.2,322.1 415.0,321.0 412.5,320.0 C410.0,319.0 408.1,317.3 407.5,315.0 C406.9,312.7 407.7,309.2 408.8,306.2 C409.8,303.3 412.5,300.8 413.8,297.5 C415.0,294.2 415.2,290.0 416.2,286.2 C417.3,282.5 417.7,276.0 420.0,275.0 Z" fill="#313695"/>
<path d="M410.0,332.5 L413.8,336.2 L414.5,343.8 L408.8,346.2 L402.0,341.2 Z" fill="#313695"/>
<path d="M215.0,385.0 C213.3,380.2 215.8,366.9 220.0,362.5 C224.2,358.1 234.2,360.0 240.0,358.8 C245.8,357.5 250.8,356.5 255.0,355.0 C259.2,353.5 261.7,351.2 265.0,350.0 C268.3,348.8 271.7,347.4 275.0,348.0 C278.3,348.6 282.3,351.3 285.0,353.8 C287.7,356.2 289.8,359.4 291.2,362.5 C292.7,365.6 293.8,369.2 293.8,372.5 C293.8,375.8 292.7,379.6 291.2,382.5 C289.8,385.4 287.7,388.1 285.0,390.0 C282.3,391.9 279.2,393.5 275.0,393.8 C270.8,394.0 265.4,391.9 260.0,391.2 C254.6,390.6 247.5,390.0 242.5,390.0 C237.5,390.0 234.6,392.1 230.0,391.2 C225.4,390.4 216.7,389.8 215.0,385.0 Z" fill="#313695"/>
<path d="M446.0,142.0 L456.0,139.0 L457.0,146.0 L451.5,150.0 L447.5,153.0 L445.0,148.0 Z" fill="#313695"/>
<path d="M410.0,201.5 L413.0,205.5 L411.0,209.0 L407.0,207.5 L407.5,204.0 Z" fill="#313695"/>
<path d="M204.0,128.0 C204.0,135.5 201.1,140.7 200.0,145.0 C198.9,149.3 200.0,151.5 197.5,153.8 C195.0,156.0 188.8,157.3 185.0,158.8 C181.2,160.2 178.3,160.6 175.0,162.5 C171.7,164.4 168.1,167.1 165.0,170.0 C161.9,172.9 157.5,176.7 156.2,180.0 C155.0,183.3 156.5,187.5 157.5,190.0 C158.5,192.5 162.1,193.1 162.5,195.0 C162.9,196.9 161.7,199.2 160.0,201.2 C158.3,203.3 155.0,205.6 152.5,207.5 C150.0,209.4 147.9,211.2 145.0,212.5 C142.1,213.8 138.8,214.4 135.0,215.0 C131.2,215.6 126.7,216.2 122.5,216.2 C118.3,216.2 113.8,215.6 110.0,215.0 C106.2,214.4 102.9,213.1 100.0,212.5 C97.1,211.9 95.0,211.0 92.5,211.2 C90.0,211.5 87.4,211.6 85.0,213.8 C82.6,215.9 85.5,218.0 78.0,224.0 C70.5,230.0 53.0,250.7 40.0,250.0 C27.0,249.3 6.7,245.0 0.0,220.0 C-6.7,195.0 -16.7,126.7 0.0,100.0 C16.7,73.3 66.7,60.0 100.0,60.0 C133.3,60.0 182.7,88.7 200.0,100.0 C217.3,111.3 204.0,120.5 204.0,128.0 Z" fill="#f2f9d7"/>
<path d="M255.0,99.0 C255.5,97.0 260.8,95.2 262.0,92.0 C263.2,88.8 259.0,82.0 262.0,80.0 C265.0,78.0 275.8,78.1 280.0,80.0 C284.2,81.9 285.4,87.9 287.5,91.2 C289.6,94.6 291.9,96.9 292.5,100.0 C293.1,103.1 292.5,107.4 291.2,110.0 C290.0,112.6 287.7,114.7 285.0,115.5 C282.3,116.3 278.1,116.1 275.0,115.0 C271.9,113.9 268.9,110.6 266.2,108.8 C263.6,106.9 260.9,105.6 259.0,104.0 C257.1,102.4 254.5,101.0 255.0,99.0 Z" fill="#f2f9d7"/>
<path d="M353.0,108.0 C354.9,106.0 360.8,103.3 365.0,104.0 C369.2,104.7 374.2,109.7 378.0,112.0 C381.8,114.3 386.8,115.4 388.0,118.0 C389.2,120.6 386.3,124.9 385.0,127.5 C383.7,130.1 382.5,132.5 380.0,133.8 C377.5,135.0 373.3,135.2 370.0,135.0 C366.7,134.8 362.5,134.2 360.0,132.5 C357.5,130.8 356.0,127.7 355.0,125.0 C354.0,122.3 354.1,119.1 353.8,116.2 C353.4,113.4 351.1,110.0 353.0,108.0 Z" fill="#f2f9d7"/>
<path d="M174.9,186.7 C174.6,185.5 176.4,183.7 177.3,182.6 C178.2,181.5 179.2,179.9 180.2,180.0 C181.2,180.1 182.1,182.1 183.2,183.2 C184.3,184.3 186.6,185.8 186.7,186.7 C186.8,187.6 185.1,188.0 183.8,188.5 C182.5,189.0 180.5,189.8 179.0,189.5 C177.5,189.2 175.2,187.8 174.9,186.7 Z" fill="#f2f9d7"/>
<path d="M245.0,208.5 C244.8,205.5 245.0,201.6 246.2,199.0 C247.5,196.4 250.0,194.2 252.5,193.0 C255.0,191.8 259.0,190.8 261.0,191.5 C263.0,192.2 264.5,195.0 264.5,197.5 C264.5,200.0 263.0,203.7 261.2,206.2 C259.5,208.8 256.3,211.2 254.0,213.0 C251.7,214.8 249.0,217.8 247.5,217.0 C246.0,216.2 245.2,211.5 245.0,208.5 Z" fill="#f2f9d7"/>
<path d="M436.5,232.0 C437.8,227.8 441.1,221.7 445.0,220.0 C448.9,218.3 456.5,219.9 460.0,222.0 C463.5,224.1 465.2,228.9 466.2,232.5 C467.3,236.1 467.5,240.8 466.5,243.8 C465.5,246.7 462.3,248.5 460.0,250.0 C457.7,251.5 455.2,252.7 452.5,253.0 C449.8,253.3 446.5,253.3 444.0,252.0 C441.5,250.7 438.8,248.3 437.5,245.0 C436.2,241.7 435.2,236.2 436.5,232.0 Z" fill="#f2f9d7"/>
<path d="M113.8,146.2 C113.3,143.5 114.8,140.0 117.5,137.5 C120.2,135.0 125.4,132.5 130.0,131.2 C134.6,130.0 141.2,129.4 145.0,130.0 C148.8,130.6 151.2,132.9 152.5,135.0 C153.8,137.1 153.8,139.6 152.5,142.5 C151.2,145.4 148.3,150.2 145.0,152.5 C141.7,154.8 136.7,156.0 132.5,156.2 C128.3,156.5 123.1,155.4 120.0,153.8 C116.9,152.1 114.2,149.0 113.8,146.2 Z" fill="#b0dcea"/>
<path d="M48.8,231.0 L62.5,229.5 L60.0,238.0 L50.0,238.0 Z" fill="#b0dcea"/>
<path d="M83.0,110.0 L90.0,100.0 L123.0,92.0 L127.0,103.0 L122.0,108.0 L123.0,114.0 L110.0,114.0 L95.0,113.5 L86.0,112.0 Z" fill="#fdd084"/>
<path d="M5.0,150.0 C8.7,144.7 22.1,141.2 30.0,138.0 C37.9,134.8 47.9,131.1 52.5,131.0 C57.1,130.9 55.4,135.8 57.5,137.5 C59.6,139.2 60.8,140.6 65.0,141.2 C69.2,141.9 78.5,140.4 82.5,141.2 C86.5,142.1 87.6,143.7 88.8,146.5 C89.9,149.3 90.1,155.2 89.5,158.0 C88.9,160.8 87.8,161.9 85.0,163.0 C82.2,164.1 76.7,164.3 72.5,164.5 C68.3,164.7 63.3,163.4 60.0,164.0 C56.7,164.6 54.8,166.5 52.5,168.0 C50.2,169.5 48.5,171.4 46.0,173.0 C43.5,174.6 41.0,176.4 37.5,177.5 C34.0,178.6 28.8,179.4 25.0,179.5 C21.2,179.6 17.8,179.6 15.0,178.0 C12.2,176.4 9.7,174.7 8.0,170.0 C6.3,165.3 1.3,155.3 5.0,150.0 Z" fill="#fdd084"/>
<path d="M58.8,177.0 C60.0,175.5 65.6,174.6 70.0,173.8 C74.4,172.9 81.2,173.4 85.0,172.0 C88.8,170.6 89.5,166.9 93.0,165.5 C96.5,164.1 101.9,163.6 106.0,163.8 C110.1,163.9 114.8,164.8 117.5,166.5 C120.2,168.2 122.5,171.8 122.5,174.0 C122.5,176.2 120.4,178.8 117.5,180.0 C114.6,181.2 110.0,181.0 105.0,181.0 C100.0,181.0 91.9,179.4 87.5,180.0 C83.1,180.6 80.8,182.5 78.5,184.5 C76.2,186.5 75.2,191.7 73.8,192.0 C72.3,192.3 71.9,187.8 70.0,186.2 C68.1,184.7 64.4,184.0 62.5,182.5 C60.6,181.0 57.5,178.5 58.8,177.0 Z" fill="#fdd084"/>
</g>
<use href="#lines"/>
</g>
<use href="#logo"/>
<use href="#logo" x="640"/>
<!-- legends -->
<g shape-rendering="crispEdges">
<rect x="563" y="96" width="26" height="36.5" fill="#a50026"/><rect x="563" y="132" width="26" height="36.5" fill="#d73027"/><rect x="563" y="168" width="26" height="36.5" fill="#f46d43"/><rect x="563" y="204" width="26" height="36.5" fill="#fdae61"/><rect x="563" y="240" width="26" height="36.5" fill="#fee090"/><rect x="563" y="276" width="26" height="36.5" fill="#ffffbf"/><rect x="563" y="312" width="26" height="36.5" fill="#e0f3f8"/><rect x="563" y="348" width="26" height="36.5" fill="#abd9e9"/><rect x="563" y="384" width="26" height="36.5" fill="#74add1"/><rect x="563" y="420" width="26" height="36.5" fill="#4575b4"/><rect x="563" y="456" width="26" height="36" fill="#313695"/>
<rect x="1203" y="96.0" width="26" height="79.7" fill="#fdd084"/><rect x="1203" y="175.2" width="26" height="79.7" fill="#f2f9d7"/><rect x="1203" y="254.4" width="26" height="79.7" fill="#b0dcea"/><rect x="1203" y="333.6" width="26" height="79.7" fill="#5e93c6"/><rect x="1203" y="412.8" width="26" height="79.2" fill="#313695"/>
</g>
</svg>
<div class="t b" style="left:79px;top:17.4px;font-size:15px;letter-spacing:-0.21px" id="t1">Dagelijkse minimumtemperatuur</div>
<div class="t" style="left:78.2px;top:40.5px;font-size:13px;letter-spacing:-0.16px" id="s1">gemiddelde november 2021</div>
<div class="t b" style="left:719px;top:17.4px;font-size:15px;letter-spacing:-0.193px" id="t2">Afwijking van de normaalwaarde van de dagelijkse minimumtemperatuur</div>
<div class="t" style="left:718.2px;top:40.5px;font-size:13px;letter-spacing:-0.053px" id="s2">gemiddelde november 2021 in vergelijking met de maandelijkse normaalwaarde 1991-2020</div>
<div class="t b" style="left:617.5px;top:61.4px;font-size:14px" id="u1"><span style="font-weight:normal">°</span>C</div>
<div class="t b" style="left:1198.6px;top:61.4px;font-size:14px;letter-spacing:0.1px" id="u2">Verschil <span style="font-weight:normal">°</span>C</div>
<div class="t lb" style="left:601px;top:89.9px;font-size:14px;letter-spacing:0.05px">5.5</div><div class="t lb" style="left:601px;top:125.9px;font-size:14px;letter-spacing:0.05px">5</div><div class="t lb" style="left:601px;top:161.9px;font-size:14px;letter-spacing:0.05px">4.5</div><div class="t lb" style="left:601px;top:197.9px;font-size:14px;letter-spacing:0.05px">4</div><div class="t lb" style="left:601px;top:233.9px;font-size:14px;letter-spacing:0.05px">3.5</div><div class="t lb" style="left:601px;top:269.9px;font-size:14px;letter-spacing:0.05px">3</div><div class="t lb" style="left:601px;top:305.9px;font-size:14px;letter-spacing:0.05px">2.5</div><div class="t lb" style="left:601px;top:341.9px;font-size:14px;letter-spacing:0.05px">2</div><div class="t lb" style="left:601px;top:377.9px;font-size:14px;letter-spacing:0.05px">1.5</div><div class="t lb" style="left:601px;top:413.9px;font-size:14px;letter-spacing:0.05px">1</div><div class="t lb" style="left:601px;top:449.9px;font-size:14px;letter-spacing:0.05px">0.5</div><div class="t lb" style="left:601px;top:485.9px;font-size:14px;letter-spacing:0.05px">0</div>
<div class="t lb" style="left:1241px;top:89.9px;font-size:14px;letter-spacing:0.05px">0.5</div><div class="t lb" style="left:1241px;top:169.1px;font-size:14px;letter-spacing:0.05px">0</div><div class="t lb" style="left:1241px;top:248.3px;font-size:14px;letter-spacing:0.05px">-0.5</div><div class="t lb" style="left:1241px;top:327.5px;font-size:14px;letter-spacing:0.05px">-1</div><div class="t lb" style="left:1241px;top:406.7px;font-size:14px;letter-spacing:0.05px">-1.5</div><div class="t lb" style="left:1241px;top:485.9px;font-size:14px;letter-spacing:0.05px">-2</div>
</body></html>
